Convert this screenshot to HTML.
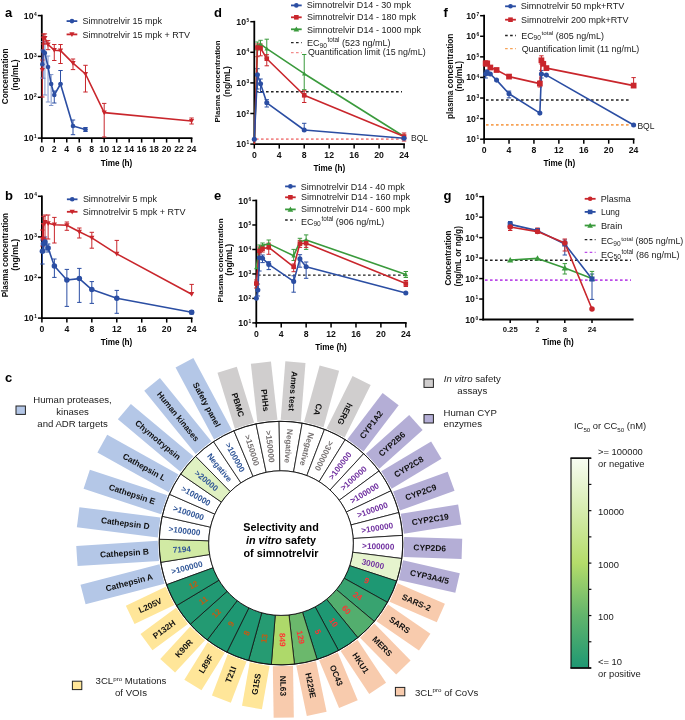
<!DOCTYPE html>
<html><head><meta charset="utf-8"><title>Simnotrelvir figure</title>
<style>html,body{margin:0;padding:0;background:#fff;}body{width:685px;height:720px;overflow:hidden;font-family:"Liberation Sans", sans-serif;}svg{display:block;will-change:transform;}</style>
</head><body>
<svg width="685" height="720" viewBox="0 0 685 720" font-family='"Liberation Sans", sans-serif'>
<text x="5.00" y="16.60" font-size="13" font-weight="bold" text-anchor="start" fill="#000">a</text>
<line x1="41.80" y1="14.70" x2="41.80" y2="139.00" stroke="#000" stroke-width="1.8" stroke-linecap="butt"/>
<line x1="40.90" y1="138.10" x2="192.46" y2="138.10" stroke="#000" stroke-width="1.8" stroke-linecap="butt"/>
<line x1="37.80" y1="15.60" x2="41.80" y2="15.60" stroke="#000" stroke-width="1.5" stroke-linecap="butt"/>
<text x="36.80" y="18.60" font-size="8.7" font-weight="bold" text-anchor="end" fill="#111">10<tspan font-size="4.87" dx="0.6" dy="-2.87">4</tspan></text>
<line x1="37.80" y1="56.43" x2="41.80" y2="56.43" stroke="#000" stroke-width="1.5" stroke-linecap="butt"/>
<text x="36.80" y="59.43" font-size="8.7" font-weight="bold" text-anchor="end" fill="#111">10<tspan font-size="4.87" dx="0.6" dy="-2.87">3</tspan></text>
<line x1="37.80" y1="97.27" x2="41.80" y2="97.27" stroke="#000" stroke-width="1.5" stroke-linecap="butt"/>
<text x="36.80" y="100.27" font-size="8.7" font-weight="bold" text-anchor="end" fill="#111">10<tspan font-size="4.87" dx="0.6" dy="-2.87">2</tspan></text>
<line x1="37.80" y1="138.10" x2="41.80" y2="138.10" stroke="#000" stroke-width="1.5" stroke-linecap="butt"/>
<text x="36.80" y="141.10" font-size="8.7" font-weight="bold" text-anchor="end" fill="#111">10<tspan font-size="4.87" dx="0.6" dy="-2.87">1</tspan></text>
<line x1="41.80" y1="138.10" x2="41.80" y2="142.60" stroke="#000" stroke-width="1.5" stroke-linecap="butt"/>
<text x="41.80" y="152.00" font-size="8.7" font-weight="bold" text-anchor="middle" fill="#111">0</text>
<line x1="54.28" y1="138.10" x2="54.28" y2="142.60" stroke="#000" stroke-width="1.5" stroke-linecap="butt"/>
<text x="54.28" y="152.00" font-size="8.7" font-weight="bold" text-anchor="middle" fill="#111">2</text>
<line x1="66.76" y1="138.10" x2="66.76" y2="142.60" stroke="#000" stroke-width="1.5" stroke-linecap="butt"/>
<text x="66.76" y="152.00" font-size="8.7" font-weight="bold" text-anchor="middle" fill="#111">4</text>
<line x1="79.24" y1="138.10" x2="79.24" y2="142.60" stroke="#000" stroke-width="1.5" stroke-linecap="butt"/>
<text x="79.24" y="152.00" font-size="8.7" font-weight="bold" text-anchor="middle" fill="#111">6</text>
<line x1="91.72" y1="138.10" x2="91.72" y2="142.60" stroke="#000" stroke-width="1.5" stroke-linecap="butt"/>
<text x="91.72" y="152.00" font-size="8.7" font-weight="bold" text-anchor="middle" fill="#111">8</text>
<line x1="104.20" y1="138.10" x2="104.20" y2="142.60" stroke="#000" stroke-width="1.5" stroke-linecap="butt"/>
<text x="104.20" y="152.00" font-size="8.7" font-weight="bold" text-anchor="middle" fill="#111">10</text>
<line x1="116.68" y1="138.10" x2="116.68" y2="142.60" stroke="#000" stroke-width="1.5" stroke-linecap="butt"/>
<text x="116.68" y="152.00" font-size="8.7" font-weight="bold" text-anchor="middle" fill="#111">12</text>
<line x1="129.16" y1="138.10" x2="129.16" y2="142.60" stroke="#000" stroke-width="1.5" stroke-linecap="butt"/>
<text x="129.16" y="152.00" font-size="8.7" font-weight="bold" text-anchor="middle" fill="#111">14</text>
<line x1="141.64" y1="138.10" x2="141.64" y2="142.60" stroke="#000" stroke-width="1.5" stroke-linecap="butt"/>
<text x="141.64" y="152.00" font-size="8.7" font-weight="bold" text-anchor="middle" fill="#111">16</text>
<line x1="154.12" y1="138.10" x2="154.12" y2="142.60" stroke="#000" stroke-width="1.5" stroke-linecap="butt"/>
<text x="154.12" y="152.00" font-size="8.7" font-weight="bold" text-anchor="middle" fill="#111">18</text>
<line x1="166.60" y1="138.10" x2="166.60" y2="142.60" stroke="#000" stroke-width="1.5" stroke-linecap="butt"/>
<text x="166.60" y="152.00" font-size="8.7" font-weight="bold" text-anchor="middle" fill="#111">20</text>
<line x1="179.08" y1="138.10" x2="179.08" y2="142.60" stroke="#000" stroke-width="1.5" stroke-linecap="butt"/>
<text x="179.08" y="152.00" font-size="8.7" font-weight="bold" text-anchor="middle" fill="#111">22</text>
<line x1="191.56" y1="138.10" x2="191.56" y2="142.60" stroke="#000" stroke-width="1.5" stroke-linecap="butt"/>
<text x="191.56" y="152.00" font-size="8.7" font-weight="bold" text-anchor="middle" fill="#111">24</text>
<text x="0" y="0" font-size="8.23" font-weight="bold" fill="#111" transform="translate(8.40 104.20) rotate(-90)">Concentration</text>
<text x="0" y="0" font-size="8.48" font-weight="bold" fill="#111" transform="translate(18.05 90.45) rotate(-90)">(ng/mL)</text>
<text x="116.50" y="165.50" font-size="8.2" font-weight="bold" text-anchor="middle" fill="#000">Time (h)</text>
<line x1="42.32" y1="50.00" x2="42.32" y2="78.00" stroke="#7f95cc" stroke-width="1.0" stroke-linecap="butt"/>
<line x1="40.12" y1="50.00" x2="44.52" y2="50.00" stroke="#7f95cc" stroke-width="1.0" stroke-linecap="butt"/>
<line x1="40.12" y1="78.00" x2="44.52" y2="78.00" stroke="#7f95cc" stroke-width="1.0" stroke-linecap="butt"/>
<line x1="43.36" y1="41.50" x2="43.36" y2="78.30" stroke="#7f95cc" stroke-width="1.0" stroke-linecap="butt"/>
<line x1="41.16" y1="41.50" x2="45.56" y2="41.50" stroke="#7f95cc" stroke-width="1.0" stroke-linecap="butt"/>
<line x1="41.16" y1="78.30" x2="45.56" y2="78.30" stroke="#7f95cc" stroke-width="1.0" stroke-linecap="butt"/>
<line x1="44.92" y1="41.50" x2="44.92" y2="95.00" stroke="#7f95cc" stroke-width="1.0" stroke-linecap="butt"/>
<line x1="42.72" y1="41.50" x2="47.12" y2="41.50" stroke="#7f95cc" stroke-width="1.0" stroke-linecap="butt"/>
<line x1="42.72" y1="95.00" x2="47.12" y2="95.00" stroke="#7f95cc" stroke-width="1.0" stroke-linecap="butt"/>
<line x1="48.04" y1="56.00" x2="48.04" y2="102.00" stroke="#7f95cc" stroke-width="1.0" stroke-linecap="butt"/>
<line x1="45.84" y1="56.00" x2="50.24" y2="56.00" stroke="#7f95cc" stroke-width="1.0" stroke-linecap="butt"/>
<line x1="45.84" y1="102.00" x2="50.24" y2="102.00" stroke="#7f95cc" stroke-width="1.0" stroke-linecap="butt"/>
<line x1="51.16" y1="74.60" x2="51.16" y2="105.50" stroke="#7f95cc" stroke-width="1.0" stroke-linecap="butt"/>
<line x1="48.96" y1="74.60" x2="53.36" y2="74.60" stroke="#7f95cc" stroke-width="1.0" stroke-linecap="butt"/>
<line x1="48.96" y1="105.50" x2="53.36" y2="105.50" stroke="#7f95cc" stroke-width="1.0" stroke-linecap="butt"/>
<line x1="54.28" y1="91.00" x2="54.28" y2="103.00" stroke="#2b4ea3" stroke-width="1.0" stroke-linecap="butt"/>
<line x1="52.08" y1="91.00" x2="56.48" y2="91.00" stroke="#2b4ea3" stroke-width="1.0" stroke-linecap="butt"/>
<line x1="52.08" y1="103.00" x2="56.48" y2="103.00" stroke="#2b4ea3" stroke-width="1.0" stroke-linecap="butt"/>
<line x1="60.52" y1="70.50" x2="60.52" y2="84.00" stroke="#2b4ea3" stroke-width="1.0" stroke-linecap="butt"/>
<line x1="58.32" y1="70.50" x2="62.72" y2="70.50" stroke="#2b4ea3" stroke-width="1.0" stroke-linecap="butt"/>
<line x1="58.32" y1="84.00" x2="62.72" y2="84.00" stroke="#2b4ea3" stroke-width="1.0" stroke-linecap="butt"/>
<line x1="73.00" y1="120.00" x2="73.00" y2="134.70" stroke="#2b4ea3" stroke-width="1.0" stroke-linecap="butt"/>
<line x1="70.80" y1="120.00" x2="75.20" y2="120.00" stroke="#2b4ea3" stroke-width="1.0" stroke-linecap="butt"/>
<line x1="70.80" y1="134.70" x2="75.20" y2="134.70" stroke="#2b4ea3" stroke-width="1.0" stroke-linecap="butt"/>
<line x1="85.48" y1="127.50" x2="85.48" y2="131.50" stroke="#2b4ea3" stroke-width="1.0" stroke-linecap="butt"/>
<line x1="83.28" y1="127.50" x2="87.68" y2="127.50" stroke="#2b4ea3" stroke-width="1.0" stroke-linecap="butt"/>
<line x1="83.28" y1="131.50" x2="87.68" y2="131.50" stroke="#2b4ea3" stroke-width="1.0" stroke-linecap="butt"/>
<line x1="42.32" y1="60.00" x2="42.32" y2="97.00" stroke="#c9262c" stroke-width="1.0" stroke-linecap="butt"/>
<line x1="40.12" y1="60.00" x2="44.52" y2="60.00" stroke="#c9262c" stroke-width="1.0" stroke-linecap="butt"/>
<line x1="40.12" y1="97.00" x2="44.52" y2="97.00" stroke="#c9262c" stroke-width="1.0" stroke-linecap="butt"/>
<line x1="43.36" y1="34.00" x2="43.36" y2="44.00" stroke="#c9262c" stroke-width="1.0" stroke-linecap="butt"/>
<line x1="41.16" y1="34.00" x2="45.56" y2="34.00" stroke="#c9262c" stroke-width="1.0" stroke-linecap="butt"/>
<line x1="41.16" y1="44.00" x2="45.56" y2="44.00" stroke="#c9262c" stroke-width="1.0" stroke-linecap="butt"/>
<line x1="44.92" y1="33.90" x2="44.92" y2="44.00" stroke="#c9262c" stroke-width="1.0" stroke-linecap="butt"/>
<line x1="42.72" y1="33.90" x2="47.12" y2="33.90" stroke="#c9262c" stroke-width="1.0" stroke-linecap="butt"/>
<line x1="42.72" y1="44.00" x2="47.12" y2="44.00" stroke="#c9262c" stroke-width="1.0" stroke-linecap="butt"/>
<line x1="48.04" y1="40.60" x2="48.04" y2="49.70" stroke="#c9262c" stroke-width="1.0" stroke-linecap="butt"/>
<line x1="45.84" y1="40.60" x2="50.24" y2="40.60" stroke="#c9262c" stroke-width="1.0" stroke-linecap="butt"/>
<line x1="45.84" y1="49.70" x2="50.24" y2="49.70" stroke="#c9262c" stroke-width="1.0" stroke-linecap="butt"/>
<line x1="54.28" y1="44.50" x2="54.28" y2="60.50" stroke="#c9262c" stroke-width="1.0" stroke-linecap="butt"/>
<line x1="52.08" y1="44.50" x2="56.48" y2="44.50" stroke="#c9262c" stroke-width="1.0" stroke-linecap="butt"/>
<line x1="52.08" y1="60.50" x2="56.48" y2="60.50" stroke="#c9262c" stroke-width="1.0" stroke-linecap="butt"/>
<line x1="60.52" y1="44.50" x2="60.52" y2="63.50" stroke="#c9262c" stroke-width="1.0" stroke-linecap="butt"/>
<line x1="58.32" y1="44.50" x2="62.72" y2="44.50" stroke="#c9262c" stroke-width="1.0" stroke-linecap="butt"/>
<line x1="58.32" y1="63.50" x2="62.72" y2="63.50" stroke="#c9262c" stroke-width="1.0" stroke-linecap="butt"/>
<line x1="73.00" y1="59.00" x2="73.00" y2="69.60" stroke="#c9262c" stroke-width="1.0" stroke-linecap="butt"/>
<line x1="70.80" y1="59.00" x2="75.20" y2="59.00" stroke="#c9262c" stroke-width="1.0" stroke-linecap="butt"/>
<line x1="70.80" y1="69.60" x2="75.20" y2="69.60" stroke="#c9262c" stroke-width="1.0" stroke-linecap="butt"/>
<line x1="85.48" y1="65.30" x2="85.48" y2="92.00" stroke="#c9262c" stroke-width="1.0" stroke-linecap="butt"/>
<line x1="83.28" y1="65.30" x2="87.68" y2="65.30" stroke="#c9262c" stroke-width="1.0" stroke-linecap="butt"/>
<line x1="83.28" y1="92.00" x2="87.68" y2="92.00" stroke="#c9262c" stroke-width="1.0" stroke-linecap="butt"/>
<line x1="104.20" y1="103.40" x2="104.20" y2="137.00" stroke="#c9262c" stroke-width="1.0" stroke-linecap="butt"/>
<line x1="102.00" y1="103.40" x2="106.40" y2="103.40" stroke="#c9262c" stroke-width="1.0" stroke-linecap="butt"/>
<line x1="102.00" y1="137.00" x2="106.40" y2="137.00" stroke="#c9262c" stroke-width="1.0" stroke-linecap="butt"/>
<line x1="191.56" y1="118.00" x2="191.56" y2="124.00" stroke="#c9262c" stroke-width="1.0" stroke-linecap="butt"/>
<line x1="189.36" y1="118.00" x2="193.76" y2="118.00" stroke="#c9262c" stroke-width="1.0" stroke-linecap="butt"/>
<line x1="189.36" y1="124.00" x2="193.76" y2="124.00" stroke="#c9262c" stroke-width="1.0" stroke-linecap="butt"/>
<polyline points="42.32,70.00 43.36,38.60 44.92,38.00 48.04,44.50 54.28,50.20 60.52,50.60 73.00,63.10 85.48,74.00 104.20,112.60 191.56,121.00" fill="none" stroke="#c9262c" stroke-width="1.6" stroke-linejoin="round"/>
<polyline points="42.32,64.30 43.36,51.50 44.92,53.00 48.04,67.00 51.16,84.00 54.28,95.00 60.52,84.00 73.00,126.00 85.48,129.50" fill="none" stroke="#2b4ea3" stroke-width="1.6" stroke-linejoin="round"/>
<polygon points="39.72,67.92 44.92,67.92 42.32,72.60" fill="#c9262c"/>
<polygon points="40.76,36.52 45.96,36.52 43.36,41.20" fill="#c9262c"/>
<polygon points="42.32,35.92 47.52,35.92 44.92,40.60" fill="#c9262c"/>
<polygon points="45.44,42.42 50.64,42.42 48.04,47.10" fill="#c9262c"/>
<polygon points="51.68,48.12 56.88,48.12 54.28,52.80" fill="#c9262c"/>
<polygon points="57.92,48.52 63.12,48.52 60.52,53.20" fill="#c9262c"/>
<polygon points="70.40,61.02 75.60,61.02 73.00,65.70" fill="#c9262c"/>
<polygon points="82.88,71.92 88.08,71.92 85.48,76.60" fill="#c9262c"/>
<polygon points="101.60,110.52 106.80,110.52 104.20,115.20" fill="#c9262c"/>
<polygon points="188.96,118.92 194.16,118.92 191.56,123.60" fill="#c9262c"/>
<circle cx="42.32" cy="64.30" r="2.30" fill="#2b4ea3"/>
<circle cx="43.36" cy="51.50" r="2.30" fill="#2b4ea3"/>
<circle cx="44.92" cy="53.00" r="2.30" fill="#2b4ea3"/>
<circle cx="48.04" cy="67.00" r="2.30" fill="#2b4ea3"/>
<circle cx="51.16" cy="84.00" r="2.30" fill="#2b4ea3"/>
<circle cx="54.28" cy="95.00" r="2.30" fill="#2b4ea3"/>
<circle cx="60.52" cy="84.00" r="2.30" fill="#2b4ea3"/>
<circle cx="73.00" cy="126.00" r="2.30" fill="#2b4ea3"/>
<circle cx="85.48" cy="129.50" r="2.30" fill="#2b4ea3"/>
<line x1="66.60" y1="21.10" x2="77.30" y2="21.10" stroke="#2b4ea3" stroke-width="1.8" stroke-linecap="butt"/>
<circle cx="71.95" cy="21.10" r="2.30" fill="#2b4ea3"/>
<text x="82.60" y="24.00" font-size="9.0" font-weight="normal" fill="#1a1a1a">Simnotrelvir 15 mpk</text>
<line x1="66.60" y1="34.40" x2="77.30" y2="34.40" stroke="#c9262c" stroke-width="1.8" stroke-linecap="butt"/>
<polygon points="69.35,32.32 74.55,32.32 71.95,37.00" fill="#c9262c"/>
<text x="82.50" y="37.70" font-size="9.0" font-weight="normal" fill="#1a1a1a">Simnotrelvir 15 mpk + RTV</text>
<text x="5.00" y="199.50" font-size="13" font-weight="bold" text-anchor="start" fill="#000">b</text>
<line x1="41.90" y1="195.40" x2="41.90" y2="319.00" stroke="#000" stroke-width="1.8" stroke-linecap="butt"/>
<line x1="41.00" y1="318.10" x2="192.56" y2="318.10" stroke="#000" stroke-width="1.8" stroke-linecap="butt"/>
<line x1="37.90" y1="196.30" x2="41.90" y2="196.30" stroke="#000" stroke-width="1.5" stroke-linecap="butt"/>
<text x="36.90" y="199.30" font-size="8.7" font-weight="bold" text-anchor="end" fill="#111">10<tspan font-size="4.87" dx="0.6" dy="-2.87">4</tspan></text>
<line x1="37.90" y1="236.90" x2="41.90" y2="236.90" stroke="#000" stroke-width="1.5" stroke-linecap="butt"/>
<text x="36.90" y="239.90" font-size="8.7" font-weight="bold" text-anchor="end" fill="#111">10<tspan font-size="4.87" dx="0.6" dy="-2.87">3</tspan></text>
<line x1="37.90" y1="277.50" x2="41.90" y2="277.50" stroke="#000" stroke-width="1.5" stroke-linecap="butt"/>
<text x="36.90" y="280.50" font-size="8.7" font-weight="bold" text-anchor="end" fill="#111">10<tspan font-size="4.87" dx="0.6" dy="-2.87">2</tspan></text>
<line x1="37.90" y1="318.10" x2="41.90" y2="318.10" stroke="#000" stroke-width="1.5" stroke-linecap="butt"/>
<text x="36.90" y="321.10" font-size="8.7" font-weight="bold" text-anchor="end" fill="#111">10<tspan font-size="4.87" dx="0.6" dy="-2.87">1</tspan></text>
<line x1="41.90" y1="318.10" x2="41.90" y2="322.60" stroke="#000" stroke-width="1.5" stroke-linecap="butt"/>
<text x="41.90" y="331.90" font-size="8.7" font-weight="bold" text-anchor="middle" fill="#111">0</text>
<line x1="66.86" y1="318.10" x2="66.86" y2="322.60" stroke="#000" stroke-width="1.5" stroke-linecap="butt"/>
<text x="66.86" y="331.90" font-size="8.7" font-weight="bold" text-anchor="middle" fill="#111">4</text>
<line x1="91.82" y1="318.10" x2="91.82" y2="322.60" stroke="#000" stroke-width="1.5" stroke-linecap="butt"/>
<text x="91.82" y="331.90" font-size="8.7" font-weight="bold" text-anchor="middle" fill="#111">8</text>
<line x1="116.78" y1="318.10" x2="116.78" y2="322.60" stroke="#000" stroke-width="1.5" stroke-linecap="butt"/>
<text x="116.78" y="331.90" font-size="8.7" font-weight="bold" text-anchor="middle" fill="#111">12</text>
<line x1="141.74" y1="318.10" x2="141.74" y2="322.60" stroke="#000" stroke-width="1.5" stroke-linecap="butt"/>
<text x="141.74" y="331.90" font-size="8.7" font-weight="bold" text-anchor="middle" fill="#111">16</text>
<line x1="166.70" y1="318.10" x2="166.70" y2="322.60" stroke="#000" stroke-width="1.5" stroke-linecap="butt"/>
<text x="166.70" y="331.90" font-size="8.7" font-weight="bold" text-anchor="middle" fill="#111">20</text>
<line x1="191.66" y1="318.10" x2="191.66" y2="322.60" stroke="#000" stroke-width="1.5" stroke-linecap="butt"/>
<text x="191.66" y="331.90" font-size="8.7" font-weight="bold" text-anchor="middle" fill="#111">24</text>
<text x="0" y="0" font-size="8.14" font-weight="bold" fill="#111" transform="translate(8.35 297.35) rotate(-90)">Plasma concentration</text>
<text x="0" y="0" font-size="8.7" font-weight="bold" fill="#111" transform="translate(17.77 270.65) rotate(-90)">(ng/mL)</text>
<text x="116.50" y="345.30" font-size="8.2" font-weight="bold" text-anchor="middle" fill="#000">Time (h)</text>
<line x1="42.42" y1="240.00" x2="42.42" y2="264.00" stroke="#2b4ea3" stroke-width="1.0" stroke-linecap="butt"/>
<line x1="40.22" y1="240.00" x2="44.62" y2="240.00" stroke="#2b4ea3" stroke-width="1.0" stroke-linecap="butt"/>
<line x1="40.22" y1="264.00" x2="44.62" y2="264.00" stroke="#2b4ea3" stroke-width="1.0" stroke-linecap="butt"/>
<line x1="43.46" y1="238.00" x2="43.46" y2="252.00" stroke="#2b4ea3" stroke-width="1.0" stroke-linecap="butt"/>
<line x1="41.26" y1="238.00" x2="45.66" y2="238.00" stroke="#2b4ea3" stroke-width="1.0" stroke-linecap="butt"/>
<line x1="41.26" y1="252.00" x2="45.66" y2="252.00" stroke="#2b4ea3" stroke-width="1.0" stroke-linecap="butt"/>
<line x1="45.02" y1="237.00" x2="45.02" y2="250.00" stroke="#2b4ea3" stroke-width="1.0" stroke-linecap="butt"/>
<line x1="42.82" y1="237.00" x2="47.22" y2="237.00" stroke="#2b4ea3" stroke-width="1.0" stroke-linecap="butt"/>
<line x1="42.82" y1="250.00" x2="47.22" y2="250.00" stroke="#2b4ea3" stroke-width="1.0" stroke-linecap="butt"/>
<line x1="48.14" y1="244.00" x2="48.14" y2="252.00" stroke="#2b4ea3" stroke-width="1.0" stroke-linecap="butt"/>
<line x1="45.94" y1="244.00" x2="50.34" y2="244.00" stroke="#2b4ea3" stroke-width="1.0" stroke-linecap="butt"/>
<line x1="45.94" y1="252.00" x2="50.34" y2="252.00" stroke="#2b4ea3" stroke-width="1.0" stroke-linecap="butt"/>
<line x1="54.38" y1="259.00" x2="54.38" y2="277.40" stroke="#2b4ea3" stroke-width="1.0" stroke-linecap="butt"/>
<line x1="52.18" y1="259.00" x2="56.58" y2="259.00" stroke="#2b4ea3" stroke-width="1.0" stroke-linecap="butt"/>
<line x1="52.18" y1="277.40" x2="56.58" y2="277.40" stroke="#2b4ea3" stroke-width="1.0" stroke-linecap="butt"/>
<line x1="66.86" y1="269.40" x2="66.86" y2="306.40" stroke="#2b4ea3" stroke-width="1.0" stroke-linecap="butt"/>
<line x1="64.66" y1="269.40" x2="69.06" y2="269.40" stroke="#2b4ea3" stroke-width="1.0" stroke-linecap="butt"/>
<line x1="64.66" y1="306.40" x2="69.06" y2="306.40" stroke="#2b4ea3" stroke-width="1.0" stroke-linecap="butt"/>
<line x1="79.34" y1="268.40" x2="79.34" y2="302.40" stroke="#2b4ea3" stroke-width="1.0" stroke-linecap="butt"/>
<line x1="77.14" y1="268.40" x2="81.54" y2="268.40" stroke="#2b4ea3" stroke-width="1.0" stroke-linecap="butt"/>
<line x1="77.14" y1="302.40" x2="81.54" y2="302.40" stroke="#2b4ea3" stroke-width="1.0" stroke-linecap="butt"/>
<line x1="91.82" y1="281.60" x2="91.82" y2="303.40" stroke="#2b4ea3" stroke-width="1.0" stroke-linecap="butt"/>
<line x1="89.62" y1="281.60" x2="94.02" y2="281.60" stroke="#2b4ea3" stroke-width="1.0" stroke-linecap="butt"/>
<line x1="89.62" y1="303.40" x2="94.02" y2="303.40" stroke="#2b4ea3" stroke-width="1.0" stroke-linecap="butt"/>
<line x1="116.78" y1="290.40" x2="116.78" y2="313.30" stroke="#2b4ea3" stroke-width="1.0" stroke-linecap="butt"/>
<line x1="114.58" y1="290.40" x2="118.98" y2="290.40" stroke="#2b4ea3" stroke-width="1.0" stroke-linecap="butt"/>
<line x1="114.58" y1="313.30" x2="118.98" y2="313.30" stroke="#2b4ea3" stroke-width="1.0" stroke-linecap="butt"/>
<line x1="191.66" y1="310.50" x2="191.66" y2="314.00" stroke="#2b4ea3" stroke-width="1.0" stroke-linecap="butt"/>
<line x1="189.46" y1="310.50" x2="193.86" y2="310.50" stroke="#2b4ea3" stroke-width="1.0" stroke-linecap="butt"/>
<line x1="189.46" y1="314.00" x2="193.86" y2="314.00" stroke="#2b4ea3" stroke-width="1.0" stroke-linecap="butt"/>
<line x1="42.42" y1="230.00" x2="42.42" y2="246.00" stroke="#c9262c" stroke-width="1.0" stroke-linecap="butt"/>
<line x1="40.22" y1="230.00" x2="44.62" y2="230.00" stroke="#c9262c" stroke-width="1.0" stroke-linecap="butt"/>
<line x1="40.22" y1="246.00" x2="44.62" y2="246.00" stroke="#c9262c" stroke-width="1.0" stroke-linecap="butt"/>
<line x1="43.46" y1="216.30" x2="43.46" y2="239.00" stroke="#c9262c" stroke-width="1.0" stroke-linecap="butt"/>
<line x1="41.26" y1="216.30" x2="45.66" y2="216.30" stroke="#c9262c" stroke-width="1.0" stroke-linecap="butt"/>
<line x1="41.26" y1="239.00" x2="45.66" y2="239.00" stroke="#c9262c" stroke-width="1.0" stroke-linecap="butt"/>
<line x1="45.02" y1="215.00" x2="45.02" y2="239.00" stroke="#c9262c" stroke-width="1.0" stroke-linecap="butt"/>
<line x1="42.82" y1="215.00" x2="47.22" y2="215.00" stroke="#c9262c" stroke-width="1.0" stroke-linecap="butt"/>
<line x1="42.82" y1="239.00" x2="47.22" y2="239.00" stroke="#c9262c" stroke-width="1.0" stroke-linecap="butt"/>
<line x1="48.14" y1="215.00" x2="48.14" y2="239.00" stroke="#c9262c" stroke-width="1.0" stroke-linecap="butt"/>
<line x1="45.94" y1="215.00" x2="50.34" y2="215.00" stroke="#c9262c" stroke-width="1.0" stroke-linecap="butt"/>
<line x1="45.94" y1="239.00" x2="50.34" y2="239.00" stroke="#c9262c" stroke-width="1.0" stroke-linecap="butt"/>
<line x1="54.38" y1="217.40" x2="54.38" y2="243.00" stroke="#c9262c" stroke-width="1.0" stroke-linecap="butt"/>
<line x1="52.18" y1="217.40" x2="56.58" y2="217.40" stroke="#c9262c" stroke-width="1.0" stroke-linecap="butt"/>
<line x1="52.18" y1="243.00" x2="56.58" y2="243.00" stroke="#c9262c" stroke-width="1.0" stroke-linecap="butt"/>
<line x1="66.86" y1="222.00" x2="66.86" y2="230.30" stroke="#c9262c" stroke-width="1.0" stroke-linecap="butt"/>
<line x1="64.66" y1="222.00" x2="69.06" y2="222.00" stroke="#c9262c" stroke-width="1.0" stroke-linecap="butt"/>
<line x1="64.66" y1="230.30" x2="69.06" y2="230.30" stroke="#c9262c" stroke-width="1.0" stroke-linecap="butt"/>
<line x1="79.34" y1="228.00" x2="79.34" y2="238.00" stroke="#c9262c" stroke-width="1.0" stroke-linecap="butt"/>
<line x1="77.14" y1="228.00" x2="81.54" y2="228.00" stroke="#c9262c" stroke-width="1.0" stroke-linecap="butt"/>
<line x1="77.14" y1="238.00" x2="81.54" y2="238.00" stroke="#c9262c" stroke-width="1.0" stroke-linecap="butt"/>
<line x1="91.82" y1="232.30" x2="91.82" y2="248.20" stroke="#c9262c" stroke-width="1.0" stroke-linecap="butt"/>
<line x1="89.62" y1="232.30" x2="94.02" y2="232.30" stroke="#c9262c" stroke-width="1.0" stroke-linecap="butt"/>
<line x1="89.62" y1="248.20" x2="94.02" y2="248.20" stroke="#c9262c" stroke-width="1.0" stroke-linecap="butt"/>
<line x1="116.78" y1="240.40" x2="116.78" y2="253.90" stroke="#c9262c" stroke-width="1.0" stroke-linecap="butt"/>
<line x1="114.58" y1="240.40" x2="118.98" y2="240.40" stroke="#c9262c" stroke-width="1.0" stroke-linecap="butt"/>
<line x1="191.66" y1="284.40" x2="191.66" y2="294.20" stroke="#c9262c" stroke-width="1.0" stroke-linecap="butt"/>
<line x1="189.46" y1="284.40" x2="193.86" y2="284.40" stroke="#c9262c" stroke-width="1.0" stroke-linecap="butt"/>
<polyline points="42.42,239.00 43.46,225.00 45.02,222.00 48.14,223.30 54.38,224.70 66.86,225.30 79.34,231.80 91.82,237.90 116.78,253.90 191.66,294.20" fill="none" stroke="#c9262c" stroke-width="1.6" stroke-linejoin="round"/>
<polyline points="42.42,251.30 43.46,243.70 45.02,242.00 48.14,248.00 54.38,266.00 66.86,280.00 79.34,278.60 91.82,289.60 116.78,298.30 191.66,312.20" fill="none" stroke="#2b4ea3" stroke-width="1.6" stroke-linejoin="round"/>
<polygon points="39.82,236.92 45.02,236.92 42.42,241.60" fill="#c9262c"/>
<polygon points="40.86,222.92 46.06,222.92 43.46,227.60" fill="#c9262c"/>
<polygon points="42.42,219.92 47.62,219.92 45.02,224.60" fill="#c9262c"/>
<polygon points="45.54,221.22 50.74,221.22 48.14,225.90" fill="#c9262c"/>
<polygon points="51.78,222.62 56.98,222.62 54.38,227.30" fill="#c9262c"/>
<polygon points="64.26,223.22 69.46,223.22 66.86,227.90" fill="#c9262c"/>
<polygon points="76.74,229.72 81.94,229.72 79.34,234.40" fill="#c9262c"/>
<polygon points="89.22,235.82 94.42,235.82 91.82,240.50" fill="#c9262c"/>
<polygon points="114.18,251.82 119.38,251.82 116.78,256.50" fill="#c9262c"/>
<polygon points="189.06,292.12 194.26,292.12 191.66,296.80" fill="#c9262c"/>
<circle cx="42.42" cy="251.30" r="2.76" fill="#2b4ea3"/>
<circle cx="43.46" cy="243.70" r="2.76" fill="#2b4ea3"/>
<circle cx="45.02" cy="242.00" r="2.76" fill="#2b4ea3"/>
<circle cx="48.14" cy="248.00" r="2.76" fill="#2b4ea3"/>
<circle cx="54.38" cy="266.00" r="2.76" fill="#2b4ea3"/>
<circle cx="66.86" cy="280.00" r="2.76" fill="#2b4ea3"/>
<circle cx="79.34" cy="278.60" r="2.76" fill="#2b4ea3"/>
<circle cx="91.82" cy="289.60" r="2.76" fill="#2b4ea3"/>
<circle cx="116.78" cy="298.30" r="2.76" fill="#2b4ea3"/>
<circle cx="191.66" cy="312.20" r="2.76" fill="#2b4ea3"/>
<line x1="66.90" y1="199.30" x2="77.50" y2="199.30" stroke="#2b4ea3" stroke-width="1.8" stroke-linecap="butt"/>
<circle cx="72.20" cy="199.30" r="2.30" fill="#2b4ea3"/>
<text x="82.90" y="202.40" font-size="8.95" font-weight="normal" fill="#1a1a1a">Simnotrelvir 5 mpk</text>
<line x1="66.90" y1="211.80" x2="77.50" y2="211.80" stroke="#c9262c" stroke-width="1.8" stroke-linecap="butt"/>
<polygon points="69.60,209.72 74.80,209.72 72.20,214.40" fill="#c9262c"/>
<text x="82.85" y="214.50" font-size="9.0" font-weight="normal" fill="#1a1a1a">Simnotrelvir 5 mpk + RTV</text>
<text x="214.00" y="16.50" font-size="13" font-weight="bold" text-anchor="start" fill="#000">d</text>
<line x1="254.30" y1="20.80" x2="254.30" y2="145.00" stroke="#000" stroke-width="1.8" stroke-linecap="butt"/>
<line x1="253.40" y1="144.10" x2="404.96" y2="144.10" stroke="#000" stroke-width="1.8" stroke-linecap="butt"/>
<line x1="250.30" y1="21.70" x2="254.30" y2="21.70" stroke="#000" stroke-width="1.5" stroke-linecap="butt"/>
<text x="249.30" y="24.70" font-size="8.7" font-weight="bold" text-anchor="end" fill="#111">10<tspan font-size="4.87" dx="0.6" dy="-2.87">5</tspan></text>
<line x1="250.30" y1="52.30" x2="254.30" y2="52.30" stroke="#000" stroke-width="1.5" stroke-linecap="butt"/>
<text x="249.30" y="55.30" font-size="8.7" font-weight="bold" text-anchor="end" fill="#111">10<tspan font-size="4.87" dx="0.6" dy="-2.87">4</tspan></text>
<line x1="250.30" y1="82.90" x2="254.30" y2="82.90" stroke="#000" stroke-width="1.5" stroke-linecap="butt"/>
<text x="249.30" y="85.90" font-size="8.7" font-weight="bold" text-anchor="end" fill="#111">10<tspan font-size="4.87" dx="0.6" dy="-2.87">3</tspan></text>
<line x1="250.30" y1="113.50" x2="254.30" y2="113.50" stroke="#000" stroke-width="1.5" stroke-linecap="butt"/>
<text x="249.30" y="116.50" font-size="8.7" font-weight="bold" text-anchor="end" fill="#111">10<tspan font-size="4.87" dx="0.6" dy="-2.87">2</tspan></text>
<line x1="250.30" y1="144.10" x2="254.30" y2="144.10" stroke="#000" stroke-width="1.5" stroke-linecap="butt"/>
<text x="249.30" y="147.10" font-size="8.7" font-weight="bold" text-anchor="end" fill="#111">10<tspan font-size="4.87" dx="0.6" dy="-2.87">1</tspan></text>
<line x1="254.30" y1="144.10" x2="254.30" y2="148.60" stroke="#000" stroke-width="1.5" stroke-linecap="butt"/>
<text x="254.30" y="158.00" font-size="8.7" font-weight="bold" text-anchor="middle" fill="#111">0</text>
<line x1="279.26" y1="144.10" x2="279.26" y2="148.60" stroke="#000" stroke-width="1.5" stroke-linecap="butt"/>
<text x="279.26" y="158.00" font-size="8.7" font-weight="bold" text-anchor="middle" fill="#111">4</text>
<line x1="304.22" y1="144.10" x2="304.22" y2="148.60" stroke="#000" stroke-width="1.5" stroke-linecap="butt"/>
<text x="304.22" y="158.00" font-size="8.7" font-weight="bold" text-anchor="middle" fill="#111">8</text>
<line x1="329.18" y1="144.10" x2="329.18" y2="148.60" stroke="#000" stroke-width="1.5" stroke-linecap="butt"/>
<text x="329.18" y="158.00" font-size="8.7" font-weight="bold" text-anchor="middle" fill="#111">12</text>
<line x1="354.14" y1="144.10" x2="354.14" y2="148.60" stroke="#000" stroke-width="1.5" stroke-linecap="butt"/>
<text x="354.14" y="158.00" font-size="8.7" font-weight="bold" text-anchor="middle" fill="#111">16</text>
<line x1="379.10" y1="144.10" x2="379.10" y2="148.60" stroke="#000" stroke-width="1.5" stroke-linecap="butt"/>
<text x="379.10" y="158.00" font-size="8.7" font-weight="bold" text-anchor="middle" fill="#111">20</text>
<line x1="404.06" y1="144.10" x2="404.06" y2="148.60" stroke="#000" stroke-width="1.5" stroke-linecap="butt"/>
<text x="404.06" y="158.00" font-size="8.7" font-weight="bold" text-anchor="middle" fill="#111">24</text>
<text x="0" y="0" font-size="7.92" font-weight="bold" fill="#111" transform="translate(219.70 122.50) rotate(-90)">Plasma concentration</text>
<text x="0" y="0" font-size="8.45" font-weight="bold" fill="#111" transform="translate(230.30 97.00) rotate(-90)">(ng/mL)</text>
<text x="329.30" y="171.30" font-size="8.2" font-weight="bold" text-anchor="middle" fill="#000">Time (h)</text>
<line x1="256.00" y1="91.70" x2="402.00" y2="91.70" stroke="#222" stroke-width="1.4" stroke-linecap="butt" stroke-dasharray="2.6,2.4"/>
<line x1="256.00" y1="139.20" x2="403.00" y2="139.20" stroke="#f28b8b" stroke-width="1.8" stroke-linecap="butt" stroke-dasharray="2.6,2.4"/>
<line x1="257.42" y1="42.00" x2="257.42" y2="50.00" stroke="#3a9a3c" stroke-width="1.0" stroke-linecap="butt"/>
<line x1="255.22" y1="42.00" x2="259.62" y2="42.00" stroke="#3a9a3c" stroke-width="1.0" stroke-linecap="butt"/>
<line x1="255.22" y1="50.00" x2="259.62" y2="50.00" stroke="#3a9a3c" stroke-width="1.0" stroke-linecap="butt"/>
<line x1="260.54" y1="40.30" x2="260.54" y2="48.00" stroke="#3a9a3c" stroke-width="1.0" stroke-linecap="butt"/>
<line x1="258.34" y1="40.30" x2="262.74" y2="40.30" stroke="#3a9a3c" stroke-width="1.0" stroke-linecap="butt"/>
<line x1="258.34" y1="48.00" x2="262.74" y2="48.00" stroke="#3a9a3c" stroke-width="1.0" stroke-linecap="butt"/>
<line x1="266.78" y1="39.20" x2="266.78" y2="58.30" stroke="#3a9a3c" stroke-width="1.0" stroke-linecap="butt"/>
<line x1="264.58" y1="39.20" x2="268.98" y2="39.20" stroke="#3a9a3c" stroke-width="1.0" stroke-linecap="butt"/>
<line x1="264.58" y1="58.30" x2="268.98" y2="58.30" stroke="#3a9a3c" stroke-width="1.0" stroke-linecap="butt"/>
<line x1="304.22" y1="54.50" x2="304.22" y2="89.70" stroke="#3a9a3c" stroke-width="1.0" stroke-linecap="butt"/>
<line x1="302.02" y1="54.50" x2="306.42" y2="54.50" stroke="#3a9a3c" stroke-width="1.0" stroke-linecap="butt"/>
<line x1="302.02" y1="89.70" x2="306.42" y2="89.70" stroke="#3a9a3c" stroke-width="1.0" stroke-linecap="butt"/>
<line x1="257.42" y1="44.00" x2="257.42" y2="56.70" stroke="#c9262c" stroke-width="1.0" stroke-linecap="butt"/>
<line x1="255.22" y1="44.00" x2="259.62" y2="44.00" stroke="#c9262c" stroke-width="1.0" stroke-linecap="butt"/>
<line x1="255.22" y1="56.70" x2="259.62" y2="56.70" stroke="#c9262c" stroke-width="1.0" stroke-linecap="butt"/>
<line x1="260.54" y1="44.00" x2="260.54" y2="55.80" stroke="#c9262c" stroke-width="1.0" stroke-linecap="butt"/>
<line x1="258.34" y1="44.00" x2="262.74" y2="44.00" stroke="#c9262c" stroke-width="1.0" stroke-linecap="butt"/>
<line x1="258.34" y1="55.80" x2="262.74" y2="55.80" stroke="#c9262c" stroke-width="1.0" stroke-linecap="butt"/>
<line x1="266.78" y1="54.70" x2="266.78" y2="65.80" stroke="#c9262c" stroke-width="1.0" stroke-linecap="butt"/>
<line x1="264.58" y1="54.70" x2="268.98" y2="54.70" stroke="#c9262c" stroke-width="1.0" stroke-linecap="butt"/>
<line x1="264.58" y1="65.80" x2="268.98" y2="65.80" stroke="#c9262c" stroke-width="1.0" stroke-linecap="butt"/>
<line x1="304.22" y1="90.80" x2="304.22" y2="102.50" stroke="#c9262c" stroke-width="1.0" stroke-linecap="butt"/>
<line x1="302.02" y1="90.80" x2="306.42" y2="90.80" stroke="#c9262c" stroke-width="1.0" stroke-linecap="butt"/>
<line x1="302.02" y1="102.50" x2="306.42" y2="102.50" stroke="#c9262c" stroke-width="1.0" stroke-linecap="butt"/>
<line x1="404.06" y1="133.00" x2="404.06" y2="141.00" stroke="#c9262c" stroke-width="1.0" stroke-linecap="butt"/>
<line x1="401.86" y1="133.00" x2="406.26" y2="133.00" stroke="#c9262c" stroke-width="1.0" stroke-linecap="butt"/>
<line x1="401.86" y1="141.00" x2="406.26" y2="141.00" stroke="#c9262c" stroke-width="1.0" stroke-linecap="butt"/>
<line x1="257.42" y1="68.70" x2="257.42" y2="89.00" stroke="#2b4ea3" stroke-width="1.0" stroke-linecap="butt"/>
<line x1="255.22" y1="68.70" x2="259.62" y2="68.70" stroke="#2b4ea3" stroke-width="1.0" stroke-linecap="butt"/>
<line x1="255.22" y1="89.00" x2="259.62" y2="89.00" stroke="#2b4ea3" stroke-width="1.0" stroke-linecap="butt"/>
<line x1="260.54" y1="79.00" x2="260.54" y2="92.50" stroke="#2b4ea3" stroke-width="1.0" stroke-linecap="butt"/>
<line x1="258.34" y1="79.00" x2="262.74" y2="79.00" stroke="#2b4ea3" stroke-width="1.0" stroke-linecap="butt"/>
<line x1="258.34" y1="92.50" x2="262.74" y2="92.50" stroke="#2b4ea3" stroke-width="1.0" stroke-linecap="butt"/>
<line x1="266.78" y1="99.70" x2="266.78" y2="107.00" stroke="#2b4ea3" stroke-width="1.0" stroke-linecap="butt"/>
<line x1="264.58" y1="99.70" x2="268.98" y2="99.70" stroke="#2b4ea3" stroke-width="1.0" stroke-linecap="butt"/>
<line x1="264.58" y1="107.00" x2="268.98" y2="107.00" stroke="#2b4ea3" stroke-width="1.0" stroke-linecap="butt"/>
<line x1="304.22" y1="123.30" x2="304.22" y2="130.00" stroke="#2b4ea3" stroke-width="1.0" stroke-linecap="butt"/>
<line x1="302.02" y1="123.30" x2="306.42" y2="123.30" stroke="#2b4ea3" stroke-width="1.0" stroke-linecap="butt"/>
<polyline points="254.30,144.00 257.42,45.80 260.54,44.20 266.78,48.70 304.22,73.70 404.06,136.50" fill="none" stroke="#3a9a3c" stroke-width="1.6" stroke-linejoin="round"/>
<polyline points="254.30,144.00 257.42,47.50 260.54,48.00 266.78,58.70 304.22,95.30 404.06,136.50" fill="none" stroke="#c9262c" stroke-width="1.6" stroke-linejoin="round"/>
<polyline points="254.30,139.20 257.42,74.70 260.54,83.70 266.78,102.80 304.22,130.00 404.06,138.30" fill="none" stroke="#2b4ea3" stroke-width="1.6" stroke-linejoin="round"/>
<polygon points="255.18,47.59 259.66,47.59 257.42,43.56" fill="#3a9a3c"/>
<polygon points="258.30,45.99 262.78,45.99 260.54,41.96" fill="#3a9a3c"/>
<polygon points="264.54,50.49 269.02,50.49 266.78,46.46" fill="#3a9a3c"/>
<polygon points="301.98,75.49 306.46,75.49 304.22,71.46" fill="#3a9a3c"/>
<polygon points="401.82,138.29 406.30,138.29 404.06,134.26" fill="#3a9a3c"/>
<rect x="255.12" y="45.20" width="4.60" height="4.60" fill="#c9262c"/>
<rect x="258.24" y="45.70" width="4.60" height="4.60" fill="#c9262c"/>
<rect x="264.48" y="56.40" width="4.60" height="4.60" fill="#c9262c"/>
<rect x="301.92" y="93.00" width="4.60" height="4.60" fill="#c9262c"/>
<rect x="401.76" y="134.20" width="4.60" height="4.60" fill="#c9262c"/>
<circle cx="254.30" cy="139.20" r="2.53" fill="#2b4ea3"/>
<circle cx="257.42" cy="74.70" r="2.53" fill="#2b4ea3"/>
<circle cx="260.54" cy="83.70" r="2.53" fill="#2b4ea3"/>
<circle cx="266.78" cy="102.80" r="2.53" fill="#2b4ea3"/>
<circle cx="304.22" cy="130.00" r="2.53" fill="#2b4ea3"/>
<circle cx="404.06" cy="138.30" r="2.53" fill="#2b4ea3"/>
<text x="411.00" y="141.20" font-size="8.5" font-weight="normal" text-anchor="start" fill="#1a1a1a">BQL</text>
<line x1="291.00" y1="5.40" x2="301.70" y2="5.40" stroke="#2b4ea3" stroke-width="1.8" stroke-linecap="butt"/>
<circle cx="296.35" cy="5.40" r="2.30" fill="#2b4ea3"/>
<text x="306.85" y="8.30" font-size="9.0" font-weight="normal" fill="#1a1a1a">Simnotrelvir D14 - 30 mpk</text>
<line x1="291.00" y1="17.30" x2="301.70" y2="17.30" stroke="#c9262c" stroke-width="1.8" stroke-linecap="butt"/>
<rect x="294.05" y="15.00" width="4.60" height="4.60" fill="#c9262c"/>
<text x="306.90" y="20.40" font-size="9.0" font-weight="normal" fill="#1a1a1a">Simnotrelvir D14 - 180 mpk</text>
<line x1="291.00" y1="29.30" x2="301.70" y2="29.30" stroke="#3a9a3c" stroke-width="1.8" stroke-linecap="butt"/>
<polygon points="293.55,31.54 299.15,31.54 296.35,26.50" fill="#3a9a3c"/>
<text x="307.00" y="32.50" font-size="9.0" font-weight="normal" fill="#1a1a1a">Simnotrelvir D14 - 1000 mpk</text>
<line x1="291.00" y1="42.70" x2="301.70" y2="42.70" stroke="#222" stroke-width="1.3" stroke-linecap="butt" stroke-dasharray="2.6,2.4"/>
<text x="306.95" y="45.80" font-size="9.0" font-weight="normal" fill="#1a1a1a">EC<tspan font-size="74%" dy="0.26em">90</tspan><tspan font-size="70%" dx="0.1em" dy="-0.83em">total</tspan><tspan dy="0.39em"> (523 ng/mL)</tspan></text>
<line x1="291.00" y1="52.70" x2="301.70" y2="52.70" stroke="#f28b8b" stroke-width="1.3" stroke-linecap="butt" stroke-dasharray="2.6,2.4"/>
<text x="307.95" y="55.40" font-size="8.87" font-weight="normal" fill="#1a1a1a">Quantification limit (15 ng/mL)</text>
<text x="214.00" y="200.00" font-size="13" font-weight="bold" text-anchor="start" fill="#000">e</text>
<line x1="256.30" y1="199.60" x2="256.30" y2="323.80" stroke="#000" stroke-width="1.8" stroke-linecap="butt"/>
<line x1="255.40" y1="322.90" x2="406.72" y2="322.90" stroke="#000" stroke-width="1.8" stroke-linecap="butt"/>
<line x1="252.30" y1="200.50" x2="256.30" y2="200.50" stroke="#000" stroke-width="1.5" stroke-linecap="butt"/>
<text x="251.30" y="203.50" font-size="8.7" font-weight="bold" text-anchor="end" fill="#111">10<tspan font-size="4.87" dx="0.6" dy="-2.87">6</tspan></text>
<line x1="252.30" y1="224.98" x2="256.30" y2="224.98" stroke="#000" stroke-width="1.5" stroke-linecap="butt"/>
<text x="251.30" y="227.98" font-size="8.7" font-weight="bold" text-anchor="end" fill="#111">10<tspan font-size="4.87" dx="0.6" dy="-2.87">5</tspan></text>
<line x1="252.30" y1="249.46" x2="256.30" y2="249.46" stroke="#000" stroke-width="1.5" stroke-linecap="butt"/>
<text x="251.30" y="252.46" font-size="8.7" font-weight="bold" text-anchor="end" fill="#111">10<tspan font-size="4.87" dx="0.6" dy="-2.87">4</tspan></text>
<line x1="252.30" y1="273.94" x2="256.30" y2="273.94" stroke="#000" stroke-width="1.5" stroke-linecap="butt"/>
<text x="251.30" y="276.94" font-size="8.7" font-weight="bold" text-anchor="end" fill="#111">10<tspan font-size="4.87" dx="0.6" dy="-2.87">3</tspan></text>
<line x1="252.30" y1="298.42" x2="256.30" y2="298.42" stroke="#000" stroke-width="1.5" stroke-linecap="butt"/>
<text x="251.30" y="301.42" font-size="8.7" font-weight="bold" text-anchor="end" fill="#111">10<tspan font-size="4.87" dx="0.6" dy="-2.87">2</tspan></text>
<line x1="252.30" y1="322.90" x2="256.30" y2="322.90" stroke="#000" stroke-width="1.5" stroke-linecap="butt"/>
<text x="251.30" y="325.90" font-size="8.7" font-weight="bold" text-anchor="end" fill="#111">10<tspan font-size="4.87" dx="0.6" dy="-2.87">1</tspan></text>
<line x1="256.30" y1="322.90" x2="256.30" y2="327.40" stroke="#000" stroke-width="1.5" stroke-linecap="butt"/>
<text x="256.30" y="336.60" font-size="8.7" font-weight="bold" text-anchor="middle" fill="#111">0</text>
<line x1="281.22" y1="322.90" x2="281.22" y2="327.40" stroke="#000" stroke-width="1.5" stroke-linecap="butt"/>
<text x="281.22" y="336.60" font-size="8.7" font-weight="bold" text-anchor="middle" fill="#111">4</text>
<line x1="306.14" y1="322.90" x2="306.14" y2="327.40" stroke="#000" stroke-width="1.5" stroke-linecap="butt"/>
<text x="306.14" y="336.60" font-size="8.7" font-weight="bold" text-anchor="middle" fill="#111">8</text>
<line x1="331.06" y1="322.90" x2="331.06" y2="327.40" stroke="#000" stroke-width="1.5" stroke-linecap="butt"/>
<text x="331.06" y="336.60" font-size="8.7" font-weight="bold" text-anchor="middle" fill="#111">12</text>
<line x1="355.98" y1="322.90" x2="355.98" y2="327.40" stroke="#000" stroke-width="1.5" stroke-linecap="butt"/>
<text x="355.98" y="336.60" font-size="8.7" font-weight="bold" text-anchor="middle" fill="#111">16</text>
<line x1="380.90" y1="322.90" x2="380.90" y2="327.40" stroke="#000" stroke-width="1.5" stroke-linecap="butt"/>
<text x="380.90" y="336.60" font-size="8.7" font-weight="bold" text-anchor="middle" fill="#111">20</text>
<line x1="405.82" y1="322.90" x2="405.82" y2="327.40" stroke="#000" stroke-width="1.5" stroke-linecap="butt"/>
<text x="405.82" y="336.60" font-size="8.7" font-weight="bold" text-anchor="middle" fill="#111">24</text>
<text x="0" y="0" font-size="8.11" font-weight="bold" fill="#111" transform="translate(222.55 302.50) rotate(-90)">Plasma concentration</text>
<text x="0" y="0" font-size="8.7" font-weight="bold" fill="#111" transform="translate(231.95 275.65) rotate(-90)">(ng/mL)</text>
<text x="331.00" y="350.30" font-size="8.2" font-weight="bold" text-anchor="middle" fill="#000">Time (h)</text>
<line x1="258.00" y1="275.10" x2="408.00" y2="275.10" stroke="#222" stroke-width="1.4" stroke-linecap="butt" stroke-dasharray="2.6,2.4"/>
<line x1="259.42" y1="245.00" x2="259.42" y2="251.00" stroke="#3a9a3c" stroke-width="1.0" stroke-linecap="butt"/>
<line x1="257.22" y1="245.00" x2="261.62" y2="245.00" stroke="#3a9a3c" stroke-width="1.0" stroke-linecap="butt"/>
<line x1="257.22" y1="251.00" x2="261.62" y2="251.00" stroke="#3a9a3c" stroke-width="1.0" stroke-linecap="butt"/>
<line x1="262.53" y1="243.00" x2="262.53" y2="248.00" stroke="#3a9a3c" stroke-width="1.0" stroke-linecap="butt"/>
<line x1="260.33" y1="243.00" x2="264.73" y2="243.00" stroke="#3a9a3c" stroke-width="1.0" stroke-linecap="butt"/>
<line x1="260.33" y1="248.00" x2="264.73" y2="248.00" stroke="#3a9a3c" stroke-width="1.0" stroke-linecap="butt"/>
<line x1="268.76" y1="240.00" x2="268.76" y2="248.00" stroke="#3a9a3c" stroke-width="1.0" stroke-linecap="butt"/>
<line x1="266.56" y1="240.00" x2="270.96" y2="240.00" stroke="#3a9a3c" stroke-width="1.0" stroke-linecap="butt"/>
<line x1="266.56" y1="248.00" x2="270.96" y2="248.00" stroke="#3a9a3c" stroke-width="1.0" stroke-linecap="butt"/>
<line x1="293.68" y1="249.40" x2="293.68" y2="260.50" stroke="#3a9a3c" stroke-width="1.0" stroke-linecap="butt"/>
<line x1="291.48" y1="249.40" x2="295.88" y2="249.40" stroke="#3a9a3c" stroke-width="1.0" stroke-linecap="butt"/>
<line x1="291.48" y1="260.50" x2="295.88" y2="260.50" stroke="#3a9a3c" stroke-width="1.0" stroke-linecap="butt"/>
<line x1="299.91" y1="238.30" x2="299.91" y2="245.00" stroke="#3a9a3c" stroke-width="1.0" stroke-linecap="butt"/>
<line x1="297.71" y1="238.30" x2="302.11" y2="238.30" stroke="#3a9a3c" stroke-width="1.0" stroke-linecap="butt"/>
<line x1="297.71" y1="245.00" x2="302.11" y2="245.00" stroke="#3a9a3c" stroke-width="1.0" stroke-linecap="butt"/>
<line x1="306.14" y1="234.90" x2="306.14" y2="249.40" stroke="#3a9a3c" stroke-width="1.0" stroke-linecap="butt"/>
<line x1="303.94" y1="234.90" x2="308.34" y2="234.90" stroke="#3a9a3c" stroke-width="1.0" stroke-linecap="butt"/>
<line x1="303.94" y1="249.40" x2="308.34" y2="249.40" stroke="#3a9a3c" stroke-width="1.0" stroke-linecap="butt"/>
<line x1="405.82" y1="271.50" x2="405.82" y2="277.50" stroke="#3a9a3c" stroke-width="1.0" stroke-linecap="butt"/>
<line x1="403.62" y1="271.50" x2="408.02" y2="271.50" stroke="#3a9a3c" stroke-width="1.0" stroke-linecap="butt"/>
<line x1="403.62" y1="277.50" x2="408.02" y2="277.50" stroke="#3a9a3c" stroke-width="1.0" stroke-linecap="butt"/>
<line x1="256.30" y1="280.00" x2="256.30" y2="288.00" stroke="#c9262c" stroke-width="1.0" stroke-linecap="butt"/>
<line x1="254.10" y1="280.00" x2="258.50" y2="280.00" stroke="#c9262c" stroke-width="1.0" stroke-linecap="butt"/>
<line x1="254.10" y1="288.00" x2="258.50" y2="288.00" stroke="#c9262c" stroke-width="1.0" stroke-linecap="butt"/>
<line x1="259.42" y1="247.00" x2="259.42" y2="254.00" stroke="#c9262c" stroke-width="1.0" stroke-linecap="butt"/>
<line x1="257.22" y1="247.00" x2="261.62" y2="247.00" stroke="#c9262c" stroke-width="1.0" stroke-linecap="butt"/>
<line x1="257.22" y1="254.00" x2="261.62" y2="254.00" stroke="#c9262c" stroke-width="1.0" stroke-linecap="butt"/>
<line x1="262.53" y1="245.50" x2="262.53" y2="252.00" stroke="#c9262c" stroke-width="1.0" stroke-linecap="butt"/>
<line x1="260.33" y1="245.50" x2="264.73" y2="245.50" stroke="#c9262c" stroke-width="1.0" stroke-linecap="butt"/>
<line x1="260.33" y1="252.00" x2="264.73" y2="252.00" stroke="#c9262c" stroke-width="1.0" stroke-linecap="butt"/>
<line x1="268.76" y1="243.20" x2="268.76" y2="254.30" stroke="#c9262c" stroke-width="1.0" stroke-linecap="butt"/>
<line x1="266.56" y1="243.20" x2="270.96" y2="243.20" stroke="#c9262c" stroke-width="1.0" stroke-linecap="butt"/>
<line x1="266.56" y1="254.30" x2="270.96" y2="254.30" stroke="#c9262c" stroke-width="1.0" stroke-linecap="butt"/>
<line x1="293.68" y1="264.00" x2="293.68" y2="271.70" stroke="#c9262c" stroke-width="1.0" stroke-linecap="butt"/>
<line x1="291.48" y1="264.00" x2="295.88" y2="264.00" stroke="#c9262c" stroke-width="1.0" stroke-linecap="butt"/>
<line x1="291.48" y1="271.70" x2="295.88" y2="271.70" stroke="#c9262c" stroke-width="1.0" stroke-linecap="butt"/>
<line x1="299.91" y1="240.40" x2="299.91" y2="247.40" stroke="#c9262c" stroke-width="1.0" stroke-linecap="butt"/>
<line x1="297.71" y1="240.40" x2="302.11" y2="240.40" stroke="#c9262c" stroke-width="1.0" stroke-linecap="butt"/>
<line x1="297.71" y1="247.40" x2="302.11" y2="247.40" stroke="#c9262c" stroke-width="1.0" stroke-linecap="butt"/>
<line x1="306.14" y1="240.40" x2="306.14" y2="247.40" stroke="#c9262c" stroke-width="1.0" stroke-linecap="butt"/>
<line x1="303.94" y1="240.40" x2="308.34" y2="240.40" stroke="#c9262c" stroke-width="1.0" stroke-linecap="butt"/>
<line x1="303.94" y1="247.40" x2="308.34" y2="247.40" stroke="#c9262c" stroke-width="1.0" stroke-linecap="butt"/>
<line x1="405.82" y1="280.50" x2="405.82" y2="286.50" stroke="#c9262c" stroke-width="1.0" stroke-linecap="butt"/>
<line x1="403.62" y1="280.50" x2="408.02" y2="280.50" stroke="#c9262c" stroke-width="1.0" stroke-linecap="butt"/>
<line x1="403.62" y1="286.50" x2="408.02" y2="286.50" stroke="#c9262c" stroke-width="1.0" stroke-linecap="butt"/>
<line x1="257.86" y1="284.00" x2="257.86" y2="296.00" stroke="#2b4ea3" stroke-width="1.0" stroke-linecap="butt"/>
<line x1="255.66" y1="284.00" x2="260.06" y2="284.00" stroke="#2b4ea3" stroke-width="1.0" stroke-linecap="butt"/>
<line x1="255.66" y1="296.00" x2="260.06" y2="296.00" stroke="#2b4ea3" stroke-width="1.0" stroke-linecap="butt"/>
<line x1="259.42" y1="252.90" x2="259.42" y2="271.00" stroke="#2b4ea3" stroke-width="1.0" stroke-linecap="butt"/>
<line x1="257.22" y1="252.90" x2="261.62" y2="252.90" stroke="#2b4ea3" stroke-width="1.0" stroke-linecap="butt"/>
<line x1="257.22" y1="271.00" x2="261.62" y2="271.00" stroke="#2b4ea3" stroke-width="1.0" stroke-linecap="butt"/>
<line x1="262.53" y1="255.00" x2="262.53" y2="262.60" stroke="#2b4ea3" stroke-width="1.0" stroke-linecap="butt"/>
<line x1="260.33" y1="255.00" x2="264.73" y2="255.00" stroke="#2b4ea3" stroke-width="1.0" stroke-linecap="butt"/>
<line x1="260.33" y1="262.60" x2="264.73" y2="262.60" stroke="#2b4ea3" stroke-width="1.0" stroke-linecap="butt"/>
<line x1="268.76" y1="261.70" x2="268.76" y2="269.60" stroke="#2b4ea3" stroke-width="1.0" stroke-linecap="butt"/>
<line x1="266.56" y1="261.70" x2="270.96" y2="261.70" stroke="#2b4ea3" stroke-width="1.0" stroke-linecap="butt"/>
<line x1="266.56" y1="269.60" x2="270.96" y2="269.60" stroke="#2b4ea3" stroke-width="1.0" stroke-linecap="butt"/>
<line x1="293.68" y1="275.80" x2="293.68" y2="292.20" stroke="#2b4ea3" stroke-width="1.0" stroke-linecap="butt"/>
<line x1="291.48" y1="275.80" x2="295.88" y2="275.80" stroke="#2b4ea3" stroke-width="1.0" stroke-linecap="butt"/>
<line x1="291.48" y1="292.20" x2="295.88" y2="292.20" stroke="#2b4ea3" stroke-width="1.0" stroke-linecap="butt"/>
<line x1="299.91" y1="254.70" x2="299.91" y2="267.20" stroke="#2b4ea3" stroke-width="1.0" stroke-linecap="butt"/>
<line x1="297.71" y1="254.70" x2="302.11" y2="254.70" stroke="#2b4ea3" stroke-width="1.0" stroke-linecap="butt"/>
<line x1="297.71" y1="267.20" x2="302.11" y2="267.20" stroke="#2b4ea3" stroke-width="1.0" stroke-linecap="butt"/>
<line x1="306.14" y1="262.00" x2="306.14" y2="278.30" stroke="#2b4ea3" stroke-width="1.0" stroke-linecap="butt"/>
<line x1="303.94" y1="262.00" x2="308.34" y2="262.00" stroke="#2b4ea3" stroke-width="1.0" stroke-linecap="butt"/>
<line x1="303.94" y1="278.30" x2="308.34" y2="278.30" stroke="#2b4ea3" stroke-width="1.0" stroke-linecap="butt"/>
<polyline points="256.30,267.50 259.42,248.00 262.53,245.30 268.76,243.90 293.68,255.70 299.91,241.80 306.14,240.00 405.82,274.40" fill="none" stroke="#3a9a3c" stroke-width="1.6" stroke-linejoin="round"/>
<polyline points="256.30,283.50 259.42,250.80 262.53,248.75 268.76,247.40 293.68,266.80 299.91,243.60 306.14,243.20 405.82,283.60" fill="none" stroke="#c9262c" stroke-width="1.6" stroke-linejoin="round"/>
<polyline points="256.30,298.30 257.86,290.00 259.42,257.80 262.53,258.20 268.76,264.40 293.68,281.40 299.91,258.90 306.14,266.80 405.82,293.00" fill="none" stroke="#2b4ea3" stroke-width="1.6" stroke-linejoin="round"/>
<polygon points="254.06,269.29 258.54,269.29 256.30,265.26" fill="#3a9a3c"/>
<polygon points="257.18,249.79 261.66,249.79 259.42,245.76" fill="#3a9a3c"/>
<polygon points="260.29,247.09 264.77,247.09 262.53,243.06" fill="#3a9a3c"/>
<polygon points="266.52,245.69 271.00,245.69 268.76,241.66" fill="#3a9a3c"/>
<polygon points="291.44,257.49 295.92,257.49 293.68,253.46" fill="#3a9a3c"/>
<polygon points="297.67,243.59 302.15,243.59 299.91,239.56" fill="#3a9a3c"/>
<polygon points="303.90,241.79 308.38,241.79 306.14,237.76" fill="#3a9a3c"/>
<polygon points="403.58,276.19 408.06,276.19 405.82,272.16" fill="#3a9a3c"/>
<rect x="254.00" y="281.20" width="4.60" height="4.60" fill="#c9262c"/>
<rect x="257.12" y="248.50" width="4.60" height="4.60" fill="#c9262c"/>
<rect x="260.23" y="246.45" width="4.60" height="4.60" fill="#c9262c"/>
<rect x="266.46" y="245.10" width="4.60" height="4.60" fill="#c9262c"/>
<rect x="291.38" y="264.50" width="4.60" height="4.60" fill="#c9262c"/>
<rect x="297.61" y="241.30" width="4.60" height="4.60" fill="#c9262c"/>
<rect x="303.84" y="240.90" width="4.60" height="4.60" fill="#c9262c"/>
<rect x="403.52" y="281.30" width="4.60" height="4.60" fill="#c9262c"/>
<circle cx="256.30" cy="298.30" r="2.53" fill="#2b4ea3"/>
<circle cx="257.86" cy="290.00" r="2.53" fill="#2b4ea3"/>
<circle cx="259.42" cy="257.80" r="2.53" fill="#2b4ea3"/>
<circle cx="262.53" cy="258.20" r="2.53" fill="#2b4ea3"/>
<circle cx="268.76" cy="264.40" r="2.53" fill="#2b4ea3"/>
<circle cx="293.68" cy="281.40" r="2.53" fill="#2b4ea3"/>
<circle cx="299.91" cy="258.90" r="2.53" fill="#2b4ea3"/>
<circle cx="306.14" cy="266.80" r="2.53" fill="#2b4ea3"/>
<circle cx="405.82" cy="293.00" r="2.53" fill="#2b4ea3"/>
<line x1="285.10" y1="186.40" x2="295.70" y2="186.40" stroke="#2b4ea3" stroke-width="1.8" stroke-linecap="butt"/>
<circle cx="290.40" cy="186.40" r="2.30" fill="#2b4ea3"/>
<text x="300.80" y="189.70" font-size="9.0" font-weight="normal" fill="#1a1a1a">Simnotrelvir D14 - 40 mpk</text>
<line x1="285.10" y1="197.30" x2="295.70" y2="197.30" stroke="#c9262c" stroke-width="1.8" stroke-linecap="butt"/>
<rect x="288.10" y="195.00" width="4.60" height="4.60" fill="#c9262c"/>
<text x="300.95" y="200.30" font-size="9.0" font-weight="normal" fill="#1a1a1a">Simnotrelvir D14 - 160 mpk</text>
<line x1="285.10" y1="209.40" x2="295.70" y2="209.40" stroke="#3a9a3c" stroke-width="1.8" stroke-linecap="butt"/>
<polygon points="287.60,211.64 293.20,211.64 290.40,206.60" fill="#3a9a3c"/>
<text x="300.95" y="212.30" font-size="9.0" font-weight="normal" fill="#1a1a1a">Simnotrelvir D14 - 600 mpk</text>
<line x1="285.10" y1="220.00" x2="295.70" y2="220.00" stroke="#222" stroke-width="1.3" stroke-linecap="butt" stroke-dasharray="2.6,2.4"/>
<text x="300.90" y="224.70" font-size="9.0" font-weight="normal" fill="#1a1a1a">EC<tspan font-size="74%" dy="0.26em">90</tspan><tspan font-size="70%" dx="0.1em" dy="-0.83em">total</tspan><tspan dy="0.39em"> (906 ng/mL)</tspan></text>
<text x="443.50" y="16.50" font-size="13" font-weight="bold" text-anchor="start" fill="#000">f</text>
<line x1="484.10" y1="14.80" x2="484.10" y2="140.10" stroke="#000" stroke-width="1.8" stroke-linecap="butt"/>
<line x1="483.20" y1="139.20" x2="634.52" y2="139.20" stroke="#000" stroke-width="1.8" stroke-linecap="butt"/>
<line x1="480.10" y1="15.70" x2="484.10" y2="15.70" stroke="#000" stroke-width="1.5" stroke-linecap="butt"/>
<text x="479.10" y="18.70" font-size="8.7" font-weight="bold" text-anchor="end" fill="#111">10<tspan font-size="4.87" dx="0.6" dy="-2.87">7</tspan></text>
<line x1="480.10" y1="36.28" x2="484.10" y2="36.28" stroke="#000" stroke-width="1.5" stroke-linecap="butt"/>
<text x="479.10" y="39.28" font-size="8.7" font-weight="bold" text-anchor="end" fill="#111">10<tspan font-size="4.87" dx="0.6" dy="-2.87">6</tspan></text>
<line x1="480.10" y1="56.87" x2="484.10" y2="56.87" stroke="#000" stroke-width="1.5" stroke-linecap="butt"/>
<text x="479.10" y="59.87" font-size="8.7" font-weight="bold" text-anchor="end" fill="#111">10<tspan font-size="4.87" dx="0.6" dy="-2.87">5</tspan></text>
<line x1="480.10" y1="77.45" x2="484.10" y2="77.45" stroke="#000" stroke-width="1.5" stroke-linecap="butt"/>
<text x="479.10" y="80.45" font-size="8.7" font-weight="bold" text-anchor="end" fill="#111">10<tspan font-size="4.87" dx="0.6" dy="-2.87">4</tspan></text>
<line x1="480.10" y1="98.03" x2="484.10" y2="98.03" stroke="#000" stroke-width="1.5" stroke-linecap="butt"/>
<text x="479.10" y="101.03" font-size="8.7" font-weight="bold" text-anchor="end" fill="#111">10<tspan font-size="4.87" dx="0.6" dy="-2.87">3</tspan></text>
<line x1="480.10" y1="118.62" x2="484.10" y2="118.62" stroke="#000" stroke-width="1.5" stroke-linecap="butt"/>
<text x="479.10" y="121.62" font-size="8.7" font-weight="bold" text-anchor="end" fill="#111">10<tspan font-size="4.87" dx="0.6" dy="-2.87">2</tspan></text>
<line x1="480.10" y1="139.20" x2="484.10" y2="139.20" stroke="#000" stroke-width="1.5" stroke-linecap="butt"/>
<text x="479.10" y="142.20" font-size="8.7" font-weight="bold" text-anchor="end" fill="#111">10<tspan font-size="4.87" dx="0.6" dy="-2.87">1</tspan></text>
<line x1="484.10" y1="139.20" x2="484.10" y2="143.70" stroke="#000" stroke-width="1.5" stroke-linecap="butt"/>
<text x="484.10" y="152.80" font-size="8.7" font-weight="bold" text-anchor="middle" fill="#111">0</text>
<line x1="509.02" y1="139.20" x2="509.02" y2="143.70" stroke="#000" stroke-width="1.5" stroke-linecap="butt"/>
<text x="509.02" y="152.80" font-size="8.7" font-weight="bold" text-anchor="middle" fill="#111">4</text>
<line x1="533.94" y1="139.20" x2="533.94" y2="143.70" stroke="#000" stroke-width="1.5" stroke-linecap="butt"/>
<text x="533.94" y="152.80" font-size="8.7" font-weight="bold" text-anchor="middle" fill="#111">8</text>
<line x1="558.86" y1="139.20" x2="558.86" y2="143.70" stroke="#000" stroke-width="1.5" stroke-linecap="butt"/>
<text x="558.86" y="152.80" font-size="8.7" font-weight="bold" text-anchor="middle" fill="#111">12</text>
<line x1="583.78" y1="139.20" x2="583.78" y2="143.70" stroke="#000" stroke-width="1.5" stroke-linecap="butt"/>
<text x="583.78" y="152.80" font-size="8.7" font-weight="bold" text-anchor="middle" fill="#111">16</text>
<line x1="608.70" y1="139.20" x2="608.70" y2="143.70" stroke="#000" stroke-width="1.5" stroke-linecap="butt"/>
<text x="608.70" y="152.80" font-size="8.7" font-weight="bold" text-anchor="middle" fill="#111">20</text>
<line x1="633.62" y1="139.20" x2="633.62" y2="143.70" stroke="#000" stroke-width="1.5" stroke-linecap="butt"/>
<text x="633.62" y="152.80" font-size="8.7" font-weight="bold" text-anchor="middle" fill="#111">24</text>
<text x="0" y="0" font-size="8.27" font-weight="bold" fill="#111" transform="translate(452.95 119.05) rotate(-90)">plasma concentration</text>
<text x="0" y="0" font-size="8.36" font-weight="bold" fill="#111" transform="translate(462.30 91.53) rotate(-90)">(ng/mL)</text>
<text x="559.30" y="165.70" font-size="8.2" font-weight="bold" text-anchor="middle" fill="#000">Time (h)</text>
<line x1="486.00" y1="100.00" x2="631.00" y2="100.00" stroke="#222" stroke-width="1.4" stroke-linecap="butt" stroke-dasharray="2.6,2.4"/>
<line x1="486.00" y1="124.90" x2="631.00" y2="124.90" stroke="#f6a256" stroke-width="1.7" stroke-linecap="butt" stroke-dasharray="2.6,2.4"/>
<line x1="485.66" y1="61.00" x2="485.66" y2="66.00" stroke="#c9262c" stroke-width="1.0" stroke-linecap="butt"/>
<line x1="483.46" y1="61.00" x2="487.86" y2="61.00" stroke="#c9262c" stroke-width="1.0" stroke-linecap="butt"/>
<line x1="483.46" y1="66.00" x2="487.86" y2="66.00" stroke="#c9262c" stroke-width="1.0" stroke-linecap="butt"/>
<line x1="539.86" y1="81.00" x2="539.86" y2="87.00" stroke="#c9262c" stroke-width="1.0" stroke-linecap="butt"/>
<line x1="537.66" y1="81.00" x2="542.06" y2="81.00" stroke="#c9262c" stroke-width="1.0" stroke-linecap="butt"/>
<line x1="537.66" y1="87.00" x2="542.06" y2="87.00" stroke="#c9262c" stroke-width="1.0" stroke-linecap="butt"/>
<line x1="541.42" y1="55.80" x2="541.42" y2="64.00" stroke="#c9262c" stroke-width="1.0" stroke-linecap="butt"/>
<line x1="539.22" y1="55.80" x2="543.62" y2="55.80" stroke="#c9262c" stroke-width="1.0" stroke-linecap="butt"/>
<line x1="539.22" y1="64.00" x2="543.62" y2="64.00" stroke="#c9262c" stroke-width="1.0" stroke-linecap="butt"/>
<line x1="633.62" y1="77.60" x2="633.62" y2="85.60" stroke="#c9262c" stroke-width="1.0" stroke-linecap="butt"/>
<line x1="631.42" y1="77.60" x2="635.82" y2="77.60" stroke="#c9262c" stroke-width="1.0" stroke-linecap="butt"/>
<line x1="485.66" y1="71.00" x2="485.66" y2="78.00" stroke="#2b4ea3" stroke-width="1.0" stroke-linecap="butt"/>
<line x1="483.46" y1="71.00" x2="487.86" y2="71.00" stroke="#2b4ea3" stroke-width="1.0" stroke-linecap="butt"/>
<line x1="483.46" y1="78.00" x2="487.86" y2="78.00" stroke="#2b4ea3" stroke-width="1.0" stroke-linecap="butt"/>
<line x1="487.22" y1="70.00" x2="487.22" y2="75.00" stroke="#2b4ea3" stroke-width="1.0" stroke-linecap="butt"/>
<line x1="485.02" y1="70.00" x2="489.42" y2="70.00" stroke="#2b4ea3" stroke-width="1.0" stroke-linecap="butt"/>
<line x1="485.02" y1="75.00" x2="489.42" y2="75.00" stroke="#2b4ea3" stroke-width="1.0" stroke-linecap="butt"/>
<line x1="509.02" y1="91.10" x2="509.02" y2="97.90" stroke="#2b4ea3" stroke-width="1.0" stroke-linecap="butt"/>
<line x1="506.82" y1="91.10" x2="511.22" y2="91.10" stroke="#2b4ea3" stroke-width="1.0" stroke-linecap="butt"/>
<line x1="506.82" y1="97.90" x2="511.22" y2="97.90" stroke="#2b4ea3" stroke-width="1.0" stroke-linecap="butt"/>
<line x1="541.42" y1="70.40" x2="541.42" y2="78.00" stroke="#2b4ea3" stroke-width="1.0" stroke-linecap="butt"/>
<line x1="539.22" y1="70.40" x2="543.62" y2="70.40" stroke="#2b4ea3" stroke-width="1.0" stroke-linecap="butt"/>
<line x1="539.22" y1="78.00" x2="543.62" y2="78.00" stroke="#2b4ea3" stroke-width="1.0" stroke-linecap="butt"/>
<polyline points="485.66,63.40 487.22,63.40 490.33,67.50 496.56,70.00 509.02,76.60 539.86,83.60 541.42,60.30 543.29,63.80 546.40,68.10 633.62,85.60" fill="none" stroke="#c9262c" stroke-width="1.6" stroke-linejoin="round"/>
<polyline points="485.66,74.00 487.22,72.00 490.33,74.00 496.56,80.10 509.02,93.80 539.86,113.10 541.42,74.00 546.40,75.10 633.62,125.00" fill="none" stroke="#2b4ea3" stroke-width="1.6" stroke-linejoin="round"/>
<rect x="482.78" y="60.52" width="5.75" height="5.75" fill="#c9262c"/>
<rect x="484.34" y="60.52" width="5.75" height="5.75" fill="#c9262c"/>
<rect x="487.46" y="64.62" width="5.75" height="5.75" fill="#c9262c"/>
<rect x="493.69" y="67.12" width="5.75" height="5.75" fill="#c9262c"/>
<rect x="506.15" y="73.72" width="5.75" height="5.75" fill="#c9262c"/>
<rect x="536.98" y="80.72" width="5.75" height="5.75" fill="#c9262c"/>
<rect x="538.54" y="57.42" width="5.75" height="5.75" fill="#c9262c"/>
<rect x="540.41" y="60.92" width="5.75" height="5.75" fill="#c9262c"/>
<rect x="543.52" y="65.22" width="5.75" height="5.75" fill="#c9262c"/>
<rect x="630.75" y="82.72" width="5.75" height="5.75" fill="#c9262c"/>
<circle cx="485.66" cy="74.00" r="2.53" fill="#2b4ea3"/>
<circle cx="487.22" cy="72.00" r="2.53" fill="#2b4ea3"/>
<circle cx="490.33" cy="74.00" r="2.53" fill="#2b4ea3"/>
<circle cx="496.56" cy="80.10" r="2.53" fill="#2b4ea3"/>
<circle cx="509.02" cy="93.80" r="2.53" fill="#2b4ea3"/>
<circle cx="539.86" cy="113.10" r="2.53" fill="#2b4ea3"/>
<circle cx="541.42" cy="74.00" r="2.53" fill="#2b4ea3"/>
<circle cx="546.40" cy="75.10" r="2.53" fill="#2b4ea3"/>
<circle cx="633.62" cy="125.00" r="2.53" fill="#2b4ea3"/>
<text x="637.40" y="129.00" font-size="8.5" font-weight="normal" text-anchor="start" fill="#1a1a1a">BQL</text>
<line x1="505.10" y1="6.30" x2="515.90" y2="6.30" stroke="#2b4ea3" stroke-width="1.8" stroke-linecap="butt"/>
<circle cx="510.50" cy="6.30" r="2.30" fill="#2b4ea3"/>
<text x="520.70" y="9.20" font-size="9.11" font-weight="normal" fill="#1a1a1a">Simnotrelvir 50 mpk+RTV</text>
<line x1="505.10" y1="19.70" x2="515.90" y2="19.70" stroke="#c9262c" stroke-width="1.8" stroke-linecap="butt"/>
<rect x="508.20" y="17.40" width="4.60" height="4.60" fill="#c9262c"/>
<text x="520.90" y="22.60" font-size="9.0" font-weight="normal" fill="#1a1a1a">Simnotrelvir 200 mpk+RTV</text>
<line x1="505.10" y1="35.50" x2="515.90" y2="35.50" stroke="#222" stroke-width="1.3" stroke-linecap="butt" stroke-dasharray="2.6,2.4"/>
<text x="521.20" y="38.50" font-size="8.93" font-weight="normal" fill="#1a1a1a">EC<tspan font-size="74%" dy="0.26em">90</tspan><tspan font-size="70%" dx="0.1em" dy="-0.83em">total</tspan><tspan dy="0.39em"> (805 ng/mL)</tspan></text>
<line x1="505.10" y1="48.60" x2="515.90" y2="48.60" stroke="#f6a256" stroke-width="1.3" stroke-linecap="butt" stroke-dasharray="2.6,2.4"/>
<text x="521.70" y="51.70" font-size="8.91" font-weight="normal" fill="#1a1a1a">Quantification limit (11 ng/mL)</text>
<text x="443.50" y="199.50" font-size="13" font-weight="bold" text-anchor="start" fill="#000">g</text>
<line x1="483.20" y1="195.80" x2="483.20" y2="320.40" stroke="#000" stroke-width="1.8" stroke-linecap="butt"/>
<line x1="482.30" y1="319.50" x2="633.60" y2="319.50" stroke="#000" stroke-width="1.8" stroke-linecap="butt"/>
<line x1="479.20" y1="196.70" x2="483.20" y2="196.70" stroke="#000" stroke-width="1.5" stroke-linecap="butt"/>
<text x="478.20" y="199.70" font-size="8.7" font-weight="bold" text-anchor="end" fill="#111">10<tspan font-size="4.87" dx="0.6" dy="-2.87">6</tspan></text>
<line x1="479.20" y1="217.17" x2="483.20" y2="217.17" stroke="#000" stroke-width="1.5" stroke-linecap="butt"/>
<text x="478.20" y="220.17" font-size="8.7" font-weight="bold" text-anchor="end" fill="#111">10<tspan font-size="4.87" dx="0.6" dy="-2.87">5</tspan></text>
<line x1="479.20" y1="237.63" x2="483.20" y2="237.63" stroke="#000" stroke-width="1.5" stroke-linecap="butt"/>
<text x="478.20" y="240.63" font-size="8.7" font-weight="bold" text-anchor="end" fill="#111">10<tspan font-size="4.87" dx="0.6" dy="-2.87">4</tspan></text>
<line x1="479.20" y1="258.10" x2="483.20" y2="258.10" stroke="#000" stroke-width="1.5" stroke-linecap="butt"/>
<text x="478.20" y="261.10" font-size="8.7" font-weight="bold" text-anchor="end" fill="#111">10<tspan font-size="4.87" dx="0.6" dy="-2.87">3</tspan></text>
<line x1="479.20" y1="278.57" x2="483.20" y2="278.57" stroke="#000" stroke-width="1.5" stroke-linecap="butt"/>
<text x="478.20" y="281.57" font-size="8.7" font-weight="bold" text-anchor="end" fill="#111">10<tspan font-size="4.87" dx="0.6" dy="-2.87">2</tspan></text>
<line x1="479.20" y1="299.03" x2="483.20" y2="299.03" stroke="#000" stroke-width="1.5" stroke-linecap="butt"/>
<text x="478.20" y="302.03" font-size="8.7" font-weight="bold" text-anchor="end" fill="#111">10<tspan font-size="4.87" dx="0.6" dy="-2.87">1</tspan></text>
<line x1="479.20" y1="319.50" x2="483.20" y2="319.50" stroke="#000" stroke-width="1.5" stroke-linecap="butt"/>
<text x="478.20" y="322.50" font-size="8.7" font-weight="bold" text-anchor="end" fill="#111">10<tspan font-size="4.87" dx="0.6" dy="-2.87">0</tspan></text>
<line x1="510.20" y1="319.50" x2="510.20" y2="323.00" stroke="#000" stroke-width="1.5" stroke-linecap="butt"/>
<text x="510.20" y="332.20" font-size="7.7" font-weight="bold" text-anchor="middle" fill="#111">0.25</text>
<line x1="537.50" y1="319.50" x2="537.50" y2="323.00" stroke="#000" stroke-width="1.5" stroke-linecap="butt"/>
<text x="537.50" y="332.20" font-size="7.7" font-weight="bold" text-anchor="middle" fill="#111">2</text>
<line x1="564.80" y1="319.50" x2="564.80" y2="323.00" stroke="#000" stroke-width="1.5" stroke-linecap="butt"/>
<text x="564.80" y="332.20" font-size="7.7" font-weight="bold" text-anchor="middle" fill="#111">8</text>
<line x1="592.00" y1="319.50" x2="592.00" y2="323.00" stroke="#000" stroke-width="1.5" stroke-linecap="butt"/>
<text x="592.00" y="332.20" font-size="7.7" font-weight="bold" text-anchor="middle" fill="#111">24</text>
<text x="0" y="0" font-size="8.14" font-weight="bold" fill="#111" transform="translate(451.30 285.50) rotate(-90)">Concentration</text>
<text x="0" y="0" font-size="8.25" font-weight="bold" fill="#111" transform="translate(461.25 286.45) rotate(-90)">(ng/mL or ng/g)</text>
<text x="558.00" y="345.20" font-size="8.2" font-weight="bold" text-anchor="middle" fill="#000">Time (h)</text>
<line x1="485.00" y1="260.20" x2="631.00" y2="260.20" stroke="#222" stroke-width="1.4" stroke-linecap="butt" stroke-dasharray="2.6,2.4"/>
<line x1="485.00" y1="280.20" x2="631.00" y2="280.20" stroke="#bb4ae8" stroke-width="1.7" stroke-linecap="butt" stroke-dasharray="2.6,2.4"/>
<line x1="510.20" y1="221.50" x2="510.20" y2="228.00" stroke="#2b4ea3" stroke-width="1.0" stroke-linecap="butt"/>
<line x1="508.00" y1="221.50" x2="512.40" y2="221.50" stroke="#2b4ea3" stroke-width="1.0" stroke-linecap="butt"/>
<line x1="508.00" y1="228.00" x2="512.40" y2="228.00" stroke="#2b4ea3" stroke-width="1.0" stroke-linecap="butt"/>
<line x1="510.20" y1="223.50" x2="510.20" y2="230.50" stroke="#c9262c" stroke-width="1.0" stroke-linecap="butt"/>
<line x1="508.00" y1="223.50" x2="512.40" y2="223.50" stroke="#c9262c" stroke-width="1.0" stroke-linecap="butt"/>
<line x1="508.00" y1="230.50" x2="512.40" y2="230.50" stroke="#c9262c" stroke-width="1.0" stroke-linecap="butt"/>
<line x1="537.50" y1="228.00" x2="537.50" y2="233.50" stroke="#c9262c" stroke-width="1.0" stroke-linecap="butt"/>
<line x1="535.30" y1="228.00" x2="539.70" y2="228.00" stroke="#c9262c" stroke-width="1.0" stroke-linecap="butt"/>
<line x1="535.30" y1="233.50" x2="539.70" y2="233.50" stroke="#c9262c" stroke-width="1.0" stroke-linecap="butt"/>
<line x1="564.80" y1="240.00" x2="564.80" y2="255.00" stroke="#2b4ea3" stroke-width="1.0" stroke-linecap="butt"/>
<line x1="562.60" y1="240.00" x2="567.00" y2="240.00" stroke="#2b4ea3" stroke-width="1.0" stroke-linecap="butt"/>
<line x1="562.60" y1="255.00" x2="567.00" y2="255.00" stroke="#2b4ea3" stroke-width="1.0" stroke-linecap="butt"/>
<line x1="564.80" y1="239.00" x2="564.80" y2="251.00" stroke="#c9262c" stroke-width="1.0" stroke-linecap="butt"/>
<line x1="562.60" y1="239.00" x2="567.00" y2="239.00" stroke="#c9262c" stroke-width="1.0" stroke-linecap="butt"/>
<line x1="562.60" y1="251.00" x2="567.00" y2="251.00" stroke="#c9262c" stroke-width="1.0" stroke-linecap="butt"/>
<line x1="564.80" y1="263.60" x2="564.80" y2="274.00" stroke="#3a9a3c" stroke-width="1.0" stroke-linecap="butt"/>
<line x1="562.60" y1="263.60" x2="567.00" y2="263.60" stroke="#3a9a3c" stroke-width="1.0" stroke-linecap="butt"/>
<line x1="562.60" y1="274.00" x2="567.00" y2="274.00" stroke="#3a9a3c" stroke-width="1.0" stroke-linecap="butt"/>
<line x1="592.00" y1="274.00" x2="592.00" y2="299.40" stroke="#2b4ea3" stroke-width="1.0" stroke-linecap="butt"/>
<line x1="589.80" y1="274.00" x2="594.20" y2="274.00" stroke="#2b4ea3" stroke-width="1.0" stroke-linecap="butt"/>
<line x1="589.80" y1="299.40" x2="594.20" y2="299.40" stroke="#2b4ea3" stroke-width="1.0" stroke-linecap="butt"/>
<line x1="592.00" y1="271.40" x2="592.00" y2="278.50" stroke="#3a9a3c" stroke-width="1.0" stroke-linecap="butt"/>
<line x1="589.80" y1="271.40" x2="594.20" y2="271.40" stroke="#3a9a3c" stroke-width="1.0" stroke-linecap="butt"/>
<polyline points="510.20,260.00 537.50,258.40 564.80,268.00 592.00,278.50" fill="none" stroke="#3a9a3c" stroke-width="1.6" stroke-linejoin="round"/>
<polyline points="510.20,224.40 537.50,230.60 564.80,244.00 592.00,279.00" fill="none" stroke="#2b4ea3" stroke-width="1.6" stroke-linejoin="round"/>
<polyline points="510.20,227.00 537.50,231.60 564.80,243.00 592.00,309.00" fill="none" stroke="#c9262c" stroke-width="1.6" stroke-linejoin="round"/>
<polygon points="507.12,262.46 513.28,262.46 510.20,256.92" fill="#3a9a3c"/>
<polygon points="534.42,260.86 540.58,260.86 537.50,255.32" fill="#3a9a3c"/>
<polygon points="561.72,270.46 567.88,270.46 564.80,264.92" fill="#3a9a3c"/>
<polygon points="588.92,280.96 595.08,280.96 592.00,275.42" fill="#3a9a3c"/>
<rect x="507.67" y="221.87" width="5.06" height="5.06" fill="#2b4ea3"/>
<rect x="534.97" y="228.07" width="5.06" height="5.06" fill="#2b4ea3"/>
<rect x="562.27" y="241.47" width="5.06" height="5.06" fill="#2b4ea3"/>
<rect x="589.47" y="276.47" width="5.06" height="5.06" fill="#2b4ea3"/>
<circle cx="510.20" cy="227.00" r="2.76" fill="#c9262c"/>
<circle cx="537.50" cy="231.60" r="2.76" fill="#c9262c"/>
<circle cx="564.80" cy="243.00" r="2.76" fill="#c9262c"/>
<circle cx="592.00" cy="309.00" r="2.76" fill="#c9262c"/>
<line x1="584.70" y1="198.80" x2="595.60" y2="198.80" stroke="#c9262c" stroke-width="1.8" stroke-linecap="butt"/>
<circle cx="590.15" cy="198.80" r="2.30" fill="#c9262c"/>
<text x="600.85" y="201.90" font-size="9.0" font-weight="normal" fill="#1a1a1a">Plasma</text>
<line x1="584.70" y1="211.90" x2="595.60" y2="211.90" stroke="#2b4ea3" stroke-width="1.8" stroke-linecap="butt"/>
<rect x="587.85" y="209.60" width="4.60" height="4.60" fill="#2b4ea3"/>
<text x="600.90" y="215.10" font-size="8.53" font-weight="normal" fill="#1a1a1a">Lung</text>
<line x1="584.70" y1="225.50" x2="595.60" y2="225.50" stroke="#3a9a3c" stroke-width="1.8" stroke-linecap="butt"/>
<polygon points="587.35,227.74 592.95,227.74 590.15,222.70" fill="#3a9a3c"/>
<text x="600.95" y="228.70" font-size="9.18" font-weight="normal" fill="#1a1a1a">Brain</text>
<line x1="584.70" y1="239.60" x2="595.60" y2="239.60" stroke="#222" stroke-width="1.3" stroke-linecap="butt" stroke-dasharray="2.6,2.4"/>
<text x="600.95" y="244.00" font-size="8.9" font-weight="normal" fill="#1a1a1a">EC<tspan font-size="74%" dy="0.26em">90</tspan><tspan font-size="70%" dx="0.1em" dy="-0.83em">total</tspan><tspan dy="0.39em"> (805 ng/mL)</tspan></text>
<line x1="584.70" y1="252.30" x2="595.60" y2="252.30" stroke="#bb4ae8" stroke-width="1.3" stroke-linecap="butt" stroke-dasharray="2.6,2.4"/>
<text x="600.95" y="257.60" font-size="9.0" font-weight="normal" fill="#1a1a1a">EC<tspan font-size="74%" dy="0.26em">50</tspan><tspan font-size="70%" dx="0.1em" dy="-0.83em">total</tspan><tspan dy="0.39em"> (86 ng/mL)</tspan></text>
<text x="5.00" y="381.50" font-size="13" font-weight="bold" text-anchor="start" fill="#000">c</text>
<g transform="translate(281.00 543.10) rotate(-194.536)"><rect x="122.9" y="-10.1" width="81.6" height="20.2" fill="#b4c7e7"/></g>
<g transform="translate(281.00 543.10) rotate(-183.627)"><rect x="122.9" y="-10.1" width="81.6" height="20.2" fill="#b4c7e7"/></g>
<g transform="translate(281.00 543.10) rotate(-172.718)"><rect x="122.9" y="-10.1" width="81.6" height="20.2" fill="#b4c7e7"/></g>
<g transform="translate(281.00 543.10) rotate(-161.809)"><rect x="122.9" y="-10.1" width="81.6" height="20.2" fill="#b4c7e7"/></g>
<g transform="translate(281.00 543.10) rotate(-150.900)"><rect x="122.9" y="-10.1" width="81.6" height="20.2" fill="#b4c7e7"/></g>
<g transform="translate(281.00 543.10) rotate(-139.991)"><rect x="122.9" y="-10.1" width="81.6" height="20.2" fill="#b4c7e7"/></g>
<g transform="translate(281.00 543.10) rotate(-129.082)"><rect x="122.9" y="-10.1" width="81.6" height="20.2" fill="#b4c7e7"/></g>
<g transform="translate(281.00 543.10) rotate(-118.173)"><rect x="122.9" y="-10.1" width="81.6" height="20.2" fill="#b4c7e7"/></g>
<g transform="translate(281.00 543.10) rotate(-107.264)"><rect x="122.9" y="-10.1" width="58.599999999999994" height="20.2" fill="#d0cece"/></g>
<g transform="translate(281.00 543.10) rotate(-96.355)"><rect x="122.9" y="-10.1" width="58.599999999999994" height="20.2" fill="#d0cece"/></g>
<g transform="translate(281.00 543.10) rotate(-85.445)"><rect x="122.9" y="-10.1" width="58.599999999999994" height="20.2" fill="#d0cece"/></g>
<g transform="translate(281.00 543.10) rotate(-74.536)"><rect x="122.9" y="-10.1" width="58.599999999999994" height="20.2" fill="#d0cece"/></g>
<g transform="translate(281.00 543.10) rotate(-63.627)"><rect x="122.9" y="-10.1" width="58.599999999999994" height="20.2" fill="#d0cece"/></g>
<g transform="translate(281.00 543.10) rotate(-52.718)"><rect x="122.9" y="-10.1" width="58.099999999999994" height="20.2" fill="#b4aed6"/></g>
<g transform="translate(281.00 543.10) rotate(-41.809)"><rect x="122.9" y="-10.1" width="58.099999999999994" height="20.2" fill="#b4aed6"/></g>
<g transform="translate(281.00 543.10) rotate(-30.900)"><rect x="122.9" y="-10.1" width="58.099999999999994" height="20.2" fill="#b4aed6"/></g>
<g transform="translate(281.00 543.10) rotate(-19.991)"><rect x="122.9" y="-10.1" width="58.099999999999994" height="20.2" fill="#b4aed6"/></g>
<g transform="translate(281.00 543.10) rotate(-9.082)"><rect x="122.9" y="-10.1" width="58.099999999999994" height="20.2" fill="#b4aed6"/></g>
<g transform="translate(281.00 543.10) rotate(1.827)"><rect x="122.9" y="-10.1" width="58.099999999999994" height="20.2" fill="#b4aed6"/></g>
<g transform="translate(281.00 543.10) rotate(12.736)"><rect x="122.9" y="-10.1" width="58.099999999999994" height="20.2" fill="#b4aed6"/></g>
<g transform="translate(281.00 543.10) rotate(23.645)"><rect x="122.9" y="-10.1" width="51.599999999999994" height="20.2" fill="#f8cbad"/></g>
<g transform="translate(281.00 543.10) rotate(34.555)"><rect x="122.9" y="-10.1" width="51.599999999999994" height="20.2" fill="#f8cbad"/></g>
<g transform="translate(281.00 543.10) rotate(45.464)"><rect x="122.9" y="-10.1" width="51.599999999999994" height="20.2" fill="#f8cbad"/></g>
<g transform="translate(281.00 543.10) rotate(56.373)"><rect x="122.9" y="-10.1" width="51.599999999999994" height="20.2" fill="#f8cbad"/></g>
<g transform="translate(281.00 543.10) rotate(67.282)"><rect x="122.9" y="-10.1" width="51.599999999999994" height="20.2" fill="#f8cbad"/></g>
<g transform="translate(281.00 543.10) rotate(78.191)"><rect x="122.9" y="-10.1" width="51.599999999999994" height="20.2" fill="#f8cbad"/></g>
<g transform="translate(281.00 543.10) rotate(89.100)"><rect x="122.9" y="-10.1" width="51.599999999999994" height="20.2" fill="#f8cbad"/></g>
<g transform="translate(281.00 543.10) rotate(100.009)"><rect x="122.9" y="-10.1" width="44.099999999999994" height="20.2" fill="#ffe699"/></g>
<g transform="translate(281.00 543.10) rotate(110.918)"><rect x="122.9" y="-10.1" width="44.099999999999994" height="20.2" fill="#ffe699"/></g>
<g transform="translate(281.00 543.10) rotate(121.827)"><rect x="122.9" y="-10.1" width="44.099999999999994" height="20.2" fill="#ffe699"/></g>
<g transform="translate(281.00 543.10) rotate(132.736)"><rect x="122.9" y="-10.1" width="44.099999999999994" height="20.2" fill="#ffe699"/></g>
<g transform="translate(281.00 543.10) rotate(143.645)"><rect x="122.9" y="-10.1" width="44.099999999999994" height="20.2" fill="#ffe699"/></g>
<g transform="translate(281.00 543.10) rotate(154.555)"><rect x="122.9" y="-10.1" width="44.099999999999994" height="20.2" fill="#ffe699"/></g>
<path d="M166.54,584.74 A121.8,121.8 0 0 1 160.73,562.33 L209.61,554.51 A72.3,72.3 0 0 0 213.06,567.82 Z" fill="#ffffff" stroke="#111" stroke-width="0.8"/>
<path d="M160.73,562.33 A121.8,121.8 0 0 1 159.26,539.22 L208.74,540.79 A72.3,72.3 0 0 0 209.61,554.51 Z" fill="#d1eaa4" stroke="#111" stroke-width="0.8"/>
<path d="M159.26,539.22 A121.8,121.8 0 0 1 162.20,516.25 L210.48,527.16 A72.3,72.3 0 0 0 208.74,540.79 Z" fill="#ffffff" stroke="#111" stroke-width="0.8"/>
<path d="M162.20,516.25 A121.8,121.8 0 0 1 169.43,494.25 L214.77,514.10 A72.3,72.3 0 0 0 210.48,527.16 Z" fill="#ffffff" stroke="#111" stroke-width="0.8"/>
<path d="M169.43,494.25 A121.8,121.8 0 0 1 180.69,474.02 L221.45,502.09 A72.3,72.3 0 0 0 214.77,514.10 Z" fill="#ffffff" stroke="#111" stroke-width="0.8"/>
<path d="M180.69,474.02 A121.8,121.8 0 0 1 195.57,456.28 L230.29,491.56 A72.3,72.3 0 0 0 221.45,502.09 Z" fill="#e0f1c2" stroke="#111" stroke-width="0.8"/>
<path d="M195.57,456.28 A121.8,121.8 0 0 1 213.55,441.68 L240.96,482.90 A72.3,72.3 0 0 0 230.29,491.56 Z" fill="#ffffff" stroke="#111" stroke-width="0.8"/>
<path d="M213.55,441.68 A121.8,121.8 0 0 1 233.96,430.75 L253.08,476.41 A72.3,72.3 0 0 0 240.96,482.90 Z" fill="#ffffff" stroke="#111" stroke-width="0.8"/>
<path d="M233.96,430.75 A121.8,121.8 0 0 1 256.07,423.88 L266.20,472.33 A72.3,72.3 0 0 0 253.08,476.41 Z" fill="#ffffff" stroke="#111" stroke-width="0.8"/>
<path d="M256.07,423.88 A121.8,121.8 0 0 1 279.09,421.32 L279.86,470.81 A72.3,72.3 0 0 0 266.20,472.33 Z" fill="#ffffff" stroke="#111" stroke-width="0.8"/>
<path d="M279.09,421.32 A121.8,121.8 0 0 1 302.17,423.15 L293.57,471.90 A72.3,72.3 0 0 0 279.86,470.81 Z" fill="#ffffff" stroke="#111" stroke-width="0.8"/>
<path d="M302.17,423.15 A121.8,121.8 0 0 1 324.49,429.33 L306.81,475.57 A72.3,72.3 0 0 0 293.57,471.90 Z" fill="#ffffff" stroke="#111" stroke-width="0.8"/>
<path d="M324.49,429.33 A121.8,121.8 0 0 1 345.23,439.61 L319.13,481.67 A72.3,72.3 0 0 0 306.81,475.57 Z" fill="#ffffff" stroke="#111" stroke-width="0.8"/>
<path d="M345.23,439.61 A121.8,121.8 0 0 1 363.66,453.64 L330.06,490.00 A72.3,72.3 0 0 0 319.13,481.67 Z" fill="#ffffff" stroke="#111" stroke-width="0.8"/>
<path d="M363.66,453.64 A121.8,121.8 0 0 1 379.09,470.90 L339.23,500.24 A72.3,72.3 0 0 0 330.06,490.00 Z" fill="#ffffff" stroke="#111" stroke-width="0.8"/>
<path d="M379.09,470.90 A121.8,121.8 0 0 1 390.98,490.77 L346.29,512.04 A72.3,72.3 0 0 0 339.23,500.24 Z" fill="#ffffff" stroke="#111" stroke-width="0.8"/>
<path d="M390.98,490.77 A121.8,121.8 0 0 1 398.90,512.53 L350.99,524.95 A72.3,72.3 0 0 0 346.29,512.04 Z" fill="#ffffff" stroke="#111" stroke-width="0.8"/>
<path d="M398.90,512.53 A121.8,121.8 0 0 1 402.56,535.39 L353.16,538.53 A72.3,72.3 0 0 0 350.99,524.95 Z" fill="#ffffff" stroke="#111" stroke-width="0.8"/>
<path d="M402.56,535.39 A121.8,121.8 0 0 1 401.82,558.54 L352.72,552.26 A72.3,72.3 0 0 0 353.16,538.53 Z" fill="#ffffff" stroke="#111" stroke-width="0.8"/>
<path d="M401.82,558.54 A121.8,121.8 0 0 1 396.71,581.12 L349.69,565.67 A72.3,72.3 0 0 0 352.72,552.26 Z" fill="#e6f4ce" stroke="#111" stroke-width="0.8"/>
<path d="M396.71,581.12 A121.8,121.8 0 0 1 387.43,602.34 L344.17,578.26 A72.3,72.3 0 0 0 349.69,565.67 Z" fill="#1e9873" stroke="#111" stroke-width="0.8"/>
<path d="M387.43,602.34 A121.8,121.8 0 0 1 374.29,621.41 L336.38,589.58 A72.3,72.3 0 0 0 344.17,578.26 Z" fill="#38a370" stroke="#111" stroke-width="0.8"/>
<path d="M374.29,621.41 A121.8,121.8 0 0 1 357.79,637.65 L326.58,599.22 A72.3,72.3 0 0 0 336.38,589.58 Z" fill="#53ae6e" stroke="#111" stroke-width="0.8"/>
<path d="M357.79,637.65 A121.8,121.8 0 0 1 338.51,650.47 L315.14,606.83 A72.3,72.3 0 0 0 326.58,599.22 Z" fill="#1e9873" stroke="#111" stroke-width="0.8"/>
<path d="M338.51,650.47 A121.8,121.8 0 0 1 317.15,659.41 L302.46,612.14 A72.3,72.3 0 0 0 315.14,606.83 Z" fill="#1e9873" stroke="#111" stroke-width="0.8"/>
<path d="M317.15,659.41 A121.8,121.8 0 0 1 294.48,664.15 L289.00,614.96 A72.3,72.3 0 0 0 302.46,612.14 Z" fill="#6bb86c" stroke="#111" stroke-width="0.8"/>
<path d="M294.48,664.15 A121.8,121.8 0 0 1 271.33,664.52 L275.26,615.17 A72.3,72.3 0 0 0 289.00,614.96 Z" fill="#aed96a" stroke="#111" stroke-width="0.8"/>
<path d="M271.33,664.52 A121.8,121.8 0 0 1 248.52,660.49 L261.72,612.78 A72.3,72.3 0 0 0 275.26,615.17 Z" fill="#269b72" stroke="#111" stroke-width="0.8"/>
<path d="M248.52,660.49 A121.8,121.8 0 0 1 226.90,652.22 L248.88,607.88 A72.3,72.3 0 0 0 261.72,612.78 Z" fill="#1e9873" stroke="#111" stroke-width="0.8"/>
<path d="M226.90,652.22 A121.8,121.8 0 0 1 207.22,640.01 L237.21,600.63 A72.3,72.3 0 0 0 248.88,607.88 Z" fill="#1e9873" stroke="#111" stroke-width="0.8"/>
<path d="M207.22,640.01 A121.8,121.8 0 0 1 190.21,624.30 L227.11,591.30 A72.3,72.3 0 0 0 237.21,600.63 Z" fill="#239a72" stroke="#111" stroke-width="0.8"/>
<path d="M190.21,624.30 A121.8,121.8 0 0 1 176.49,605.65 L218.96,580.23 A72.3,72.3 0 0 0 227.11,591.30 Z" fill="#219973" stroke="#111" stroke-width="0.8"/>
<path d="M176.49,605.65 A121.8,121.8 0 0 1 166.54,584.74 L213.06,567.82 A72.3,72.3 0 0 0 218.96,580.23 Z" fill="#239a72" stroke="#111" stroke-width="0.8"/>
<circle cx="281.0" cy="543.1" r="121.8" fill="none" stroke="#111" stroke-width="0.9"/>
<circle cx="281.0" cy="543.1" r="72.3" fill="#fff" stroke="#111" stroke-width="0.9"/>
<text x="0" y="0" font-size="8.4" font-weight="bold" text-anchor="end" fill="#111" transform="translate(152.74 576.36) rotate(-14.536)" dy="3.0">Cathepsin A</text>
<text x="0" y="0" font-size="8.2" font-weight="bold" text-anchor="middle" fill="#2f5597" transform="translate(186.81 567.52) rotate(-14.536)" dy="2.9">&gt;100000</text>
<text x="0" y="0" font-size="8.4" font-weight="bold" text-anchor="end" fill="#111" transform="translate(148.77 551.48) rotate(-3.627)" dy="3.0">Cathepsin B</text>
<text x="0" y="0" font-size="8.2" font-weight="bold" text-anchor="middle" fill="#2f5597" transform="translate(181.80 549.39) rotate(-3.627)" dy="2.9">7194</text>
<text x="0" y="0" font-size="8.4" font-weight="bold" text-anchor="end" fill="#111" transform="translate(149.57 526.31) rotate(7.282)" dy="3.0">Cathepsin D</text>
<text x="0" y="0" font-size="8.2" font-weight="bold" text-anchor="middle" fill="#2f5597" transform="translate(184.48 530.77) rotate(7.282)" dy="2.9">&gt;100000</text>
<text x="0" y="0" font-size="8.4" font-weight="bold" text-anchor="end" fill="#111" transform="translate(155.12 501.74) rotate(18.191)" dy="3.0">Cathepsin E</text>
<text x="0" y="0" font-size="8.2" font-weight="bold" text-anchor="middle" fill="#2f5597" transform="translate(188.56 512.72) rotate(18.191)" dy="2.9">&gt;100000</text>
<text x="0" y="0" font-size="8.4" font-weight="bold" text-anchor="end" fill="#111" transform="translate(165.23 478.66) rotate(29.100)" dy="3.0">Cathepsin L</text>
<text x="0" y="0" font-size="8.2" font-weight="bold" text-anchor="middle" fill="#2f5597" transform="translate(195.98 495.78) rotate(29.100)" dy="2.9">&gt;100000</text>
<text x="0" y="0" font-size="8.4" font-weight="bold" text-anchor="end" fill="#111" transform="translate(179.51 457.91) rotate(40.009)" dy="3.0">Chymotrypsin</text>
<text x="0" y="0" font-size="8.2" font-weight="bold" text-anchor="middle" fill="#2f5597" transform="translate(206.47 480.54) rotate(40.009)" dy="2.9">&gt;20000</text>
<text x="0" y="0" font-size="8.4" font-weight="bold" text-anchor="end" fill="#111" transform="translate(197.47 440.25) rotate(50.918)" dy="3.0">Human kinases</text>
<text x="0" y="0" font-size="8.2" font-weight="bold" text-anchor="middle" fill="#2f5597" transform="translate(219.66 467.57) rotate(50.918)" dy="2.9">Negative</text>
<text x="0" y="0" font-size="8.4" font-weight="bold" text-anchor="end" fill="#111" transform="translate(218.44 426.30) rotate(61.827)" dy="3.0">Safety panel</text>
<text x="0" y="0" font-size="8.2" font-weight="bold" text-anchor="middle" fill="#2f5597" transform="translate(235.06 457.33) rotate(61.827)" dy="2.9">&gt;100000</text>
<text x="0" y="0" font-size="8.4" font-weight="bold" text-anchor="end" fill="#111" transform="translate(241.68 416.57) rotate(72.736)" dy="3.0">PBMC</text>
<text x="0" y="0" font-size="8.2" font-weight="bold" text-anchor="middle" fill="#767171" transform="translate(252.12 450.18) rotate(72.736)" dy="2.9">&gt;150000</text>
<text x="0" y="0" font-size="8.4" font-weight="bold" text-anchor="end" fill="#111" transform="translate(266.33 411.41) rotate(83.645)" dy="3.0">PHHs</text>
<text x="0" y="0" font-size="8.2" font-weight="bold" text-anchor="middle" fill="#767171" transform="translate(270.23 446.40) rotate(83.645)" dy="2.9">&gt;150000</text>
<text x="0" y="0" font-size="8.4" font-weight="bold" text-anchor="end" fill="#111" transform="translate(291.52 411.02) rotate(94.555)" dy="3.0">Ames test</text>
<text x="0" y="0" font-size="8.2" font-weight="bold" text-anchor="middle" fill="#767171" transform="translate(288.73 446.11) rotate(94.555)" dy="2.9">Negative</text>
<text x="0" y="0" font-size="8.4" font-weight="bold" text-anchor="end" fill="#111" transform="translate(316.33 415.40) rotate(105.464)" dy="3.0">CA</text>
<text x="0" y="0" font-size="8.2" font-weight="bold" text-anchor="middle" fill="#767171" transform="translate(306.94 449.32) rotate(105.464)" dy="2.9">Negative</text>
<text x="0" y="0" font-size="8.4" font-weight="bold" text-anchor="end" fill="#111" transform="translate(339.86 424.39) rotate(116.373)" dy="3.0">hERG</text>
<text x="0" y="0" font-size="8.2" font-weight="bold" text-anchor="middle" fill="#767171" transform="translate(324.22 455.93) rotate(116.373)" dy="2.9">&gt;300000</text>
<text x="0" y="0" font-size="8.4" font-weight="bold" text-anchor="start" fill="#111" transform="translate(361.26 437.67) rotate(-52.718)" dy="3.0">CYP1A2</text>
<text x="0" y="0" font-size="8.2" font-weight="bold" text-anchor="middle" fill="#7030a0" transform="translate(339.94 465.68) rotate(-52.718)" dy="2.9">&gt;100000</text>
<text x="0" y="0" font-size="8.4" font-weight="bold" text-anchor="start" fill="#111" transform="translate(379.76 454.77) rotate(-41.809)" dy="3.0">CYP2B6</text>
<text x="0" y="0" font-size="8.2" font-weight="bold" text-anchor="middle" fill="#7030a0" transform="translate(353.52 478.23) rotate(-41.809)" dy="2.9">&gt;100000</text>
<text x="0" y="0" font-size="8.4" font-weight="bold" text-anchor="start" fill="#111" transform="translate(394.69 475.06) rotate(-30.900)" dy="3.0">CYP2C8</text>
<text x="0" y="0" font-size="8.2" font-weight="bold" text-anchor="middle" fill="#7030a0" transform="translate(364.49 493.13) rotate(-30.900)" dy="2.9">&gt;100000</text>
<text x="0" y="0" font-size="8.4" font-weight="bold" text-anchor="start" fill="#111" transform="translate(405.52 497.80) rotate(-19.991)" dy="3.0">CYP2C9</text>
<text x="0" y="0" font-size="8.2" font-weight="bold" text-anchor="middle" fill="#7030a0" transform="translate(372.44 509.84) rotate(-19.991)" dy="2.9">&gt;100000</text>
<text x="0" y="0" font-size="8.4" font-weight="bold" text-anchor="start" fill="#111" transform="translate(411.84 522.19) rotate(-9.082)" dy="3.0">CYP2C19</text>
<text x="0" y="0" font-size="8.2" font-weight="bold" text-anchor="middle" fill="#7030a0" transform="translate(377.08 527.74) rotate(-9.082)" dy="2.9">&gt;100000</text>
<text x="0" y="0" font-size="8.4" font-weight="bold" text-anchor="start" fill="#111" transform="translate(413.43 547.32) rotate(1.827)" dy="3.0">CYP2D6</text>
<text x="0" y="0" font-size="8.2" font-weight="bold" text-anchor="middle" fill="#7030a0" transform="translate(378.25 546.20) rotate(1.827)" dy="2.9">&gt;100000</text>
<text x="0" y="0" font-size="8.4" font-weight="bold" text-anchor="start" fill="#111" transform="translate(410.24 572.31) rotate(12.736)" dy="3.0">CYP3A4/5</text>
<text x="0" y="0" font-size="8.2" font-weight="bold" text-anchor="middle" fill="#7030a0" transform="translate(372.88 563.87) rotate(12.736)" dy="2.9">30000</text>
<text x="0" y="0" font-size="8.4" font-weight="bold" text-anchor="start" fill="#111" transform="translate(402.38 596.24) rotate(23.645)" dy="3.0">SARS-2</text>
<text x="0" y="0" font-size="8.2" font-weight="bold" text-anchor="middle" fill="#ff3333" transform="translate(366.65 580.60) rotate(23.645)" dy="2.9">9</text>
<text x="0" y="0" font-size="8.4" font-weight="bold" text-anchor="start" fill="#111" transform="translate(390.13 618.25) rotate(34.555)" dy="3.0">SARS</text>
<text x="0" y="0" font-size="8.2" font-weight="bold" text-anchor="middle" fill="#ff3333" transform="translate(357.76 595.96) rotate(34.555)" dy="2.9">24</text>
<text x="0" y="0" font-size="8.4" font-weight="bold" text-anchor="start" fill="#111" transform="translate(373.93 637.55) rotate(45.464)" dy="3.0">MERS</text>
<text x="0" y="0" font-size="8.2" font-weight="bold" text-anchor="middle" fill="#ff3333" transform="translate(346.44 609.60) rotate(45.464)" dy="2.9">60</text>
<text x="0" y="0" font-size="8.4" font-weight="bold" text-anchor="start" fill="#111" transform="translate(354.38 653.43) rotate(56.373)" dy="3.0">HKU1</text>
<text x="0" y="0" font-size="8.2" font-weight="bold" text-anchor="middle" fill="#ff3333" transform="translate(333.72 622.37) rotate(56.373)" dy="2.9">10</text>
<text x="0" y="0" font-size="8.4" font-weight="bold" text-anchor="start" fill="#111" transform="translate(332.17 665.32) rotate(67.282)" dy="3.0">OC43</text>
<text x="0" y="0" font-size="8.2" font-weight="bold" text-anchor="middle" fill="#ff3333" transform="translate(318.11 631.74) rotate(67.282)" dy="2.9">5</text>
<text x="0" y="0" font-size="8.4" font-weight="bold" text-anchor="start" fill="#111" transform="translate(308.12 672.80) rotate(78.191)" dy="3.0">H229E</text>
<text x="0" y="0" font-size="8.2" font-weight="bold" text-anchor="middle" fill="#ff3333" transform="translate(300.69 637.26) rotate(78.191)" dy="2.9">129</text>
<text x="0" y="0" font-size="8.4" font-weight="bold" text-anchor="start" fill="#111" transform="translate(283.08 675.58) rotate(89.100)" dy="3.0">NL63</text>
<text x="0" y="0" font-size="8.2" font-weight="bold" text-anchor="middle" fill="#ff3333" transform="translate(282.52 639.69) rotate(89.100)" dy="2.9">849</text>
<text x="0" y="0" font-size="8.4" font-weight="bold" text-anchor="end" fill="#111" transform="translate(257.97 673.58) rotate(280.009)" dy="3.0">G15S</text>
<text x="0" y="0" font-size="8.2" font-weight="bold" text-anchor="middle" fill="#c55a11" transform="translate(264.18 638.43) rotate(280.009)" dy="2.9">13</text>
<text x="0" y="0" font-size="8.4" font-weight="bold" text-anchor="end" fill="#111" transform="translate(233.69 666.87) rotate(290.918)" dy="3.0">T21I</text>
<text x="0" y="0" font-size="8.2" font-weight="bold" text-anchor="middle" fill="#c55a11" transform="translate(246.58 633.15) rotate(290.918)" dy="2.9">8</text>
<text x="0" y="0" font-size="8.4" font-weight="bold" text-anchor="end" fill="#111" transform="translate(211.12 655.68) rotate(301.827)" dy="3.0">L89F</text>
<text x="0" y="0" font-size="8.2" font-weight="bold" text-anchor="middle" fill="#c55a11" transform="translate(230.95 623.73) rotate(301.827)" dy="2.9">9</text>
<text x="0" y="0" font-size="8.4" font-weight="bold" text-anchor="end" fill="#111" transform="translate(191.08 640.42) rotate(312.736)" dy="3.0">K90R</text>
<text x="0" y="0" font-size="8.2" font-weight="bold" text-anchor="middle" fill="#c55a11" transform="translate(216.26 613.17) rotate(312.736)" dy="2.9">12</text>
<text x="0" y="0" font-size="8.4" font-weight="bold" text-anchor="end" fill="#111" transform="translate(174.29 621.64) rotate(323.645)" dy="3.0">P132H</text>
<text x="0" y="0" font-size="8.2" font-weight="bold" text-anchor="middle" fill="#c55a11" transform="translate(203.36 600.24) rotate(323.645)" dy="2.9">11</text>
<text x="0" y="0" font-size="8.4" font-weight="bold" text-anchor="end" fill="#111" transform="translate(161.35 600.03) rotate(334.555)" dy="3.0">L205V</text>
<text x="0" y="0" font-size="8.2" font-weight="bold" text-anchor="middle" fill="#c55a11" transform="translate(193.32 584.82) rotate(334.555)" dy="2.9">12</text>
<text x="281.00" y="530.80" font-size="10.8" font-weight="bold" text-anchor="middle" fill="#000">Selectivity and</text>
<text x="281.0" y="543.9" font-size="10.8" font-weight="bold" text-anchor="middle" fill="#000"><tspan font-style="italic">in vitro</tspan> safety</text>
<text x="281.00" y="556.80" font-size="10.8" font-weight="bold" text-anchor="middle" fill="#000">of simnotrelvir</text>
<rect x="16.00" y="406.00" width="9.4" height="8.4" fill="#b4c7e7" stroke="#222" stroke-width="1"/>
<text x="72.50" y="403.30" font-size="9.6" font-weight="normal" text-anchor="middle" fill="#1a1a1a">Human proteases,</text>
<text x="72.50" y="414.90" font-size="9.6" font-weight="normal" text-anchor="middle" fill="#1a1a1a">kinases</text>
<text x="72.50" y="426.50" font-size="9.6" font-weight="normal" text-anchor="middle" fill="#1a1a1a">and ADR targets</text>
<rect x="424.00" y="379.00" width="9.4" height="8.4" fill="#d0cece" stroke="#222" stroke-width="1"/>
<text x="472.3" y="382.4" font-size="9.6" text-anchor="middle" fill="#222"><tspan font-style="italic">In vitro</tspan> safety</text>
<text x="472.30" y="393.80" font-size="9.6" font-weight="normal" text-anchor="middle" fill="#1a1a1a">assays</text>
<rect x="424.00" y="414.60" width="9.4" height="8.4" fill="#b4aed6" stroke="#222" stroke-width="1"/>
<text x="443.60" y="415.80" font-size="9.6" font-weight="normal" text-anchor="start" fill="#1a1a1a">Human CYP</text>
<text x="443.60" y="427.40" font-size="9.6" font-weight="normal" text-anchor="start" fill="#1a1a1a">enzymes</text>
<rect x="72.40" y="681.20" width="9.4" height="8.4" fill="#ffe699" stroke="#222" stroke-width="1"/>
<text x="131" y="684.4" font-size="9.6" text-anchor="middle" fill="#222">3CL<tspan font-size="6.2" dy="-3.6">pro</tspan><tspan dy="3.6"> Mutations</tspan></text>
<text x="131.00" y="695.80" font-size="9.6" font-weight="normal" text-anchor="middle" fill="#1a1a1a">of VOIs</text>
<rect x="395.40" y="687.40" width="9.4" height="8.4" fill="#f8cbad" stroke="#222" stroke-width="1"/>
<text x="415" y="695.8" font-size="9.6" text-anchor="start" fill="#222">3CL<tspan font-size="6.2" dy="-3.6">pro</tspan><tspan dy="3.6"> of CoVs</tspan></text>
<defs><linearGradient id="cb" x1="0" y1="0" x2="0" y2="1"><stop offset="0.0" stop-color="#f8fcf2"/><stop offset="0.25" stop-color="#d6ecae"/><stop offset="0.5" stop-color="#b4dc6a"/><stop offset="0.75" stop-color="#62b46c"/><stop offset="1.0" stop-color="#1e9873"/></linearGradient></defs>
<rect x="571.0" y="458.2" width="17.600000000000023" height="209.8" fill="url(#cb)" stroke="#111" stroke-width="1.1"/>
<line x1="570.50" y1="458.20" x2="591.10" y2="458.20" stroke="#111" stroke-width="1.6" stroke-linecap="butt"/>
<line x1="570.50" y1="668.00" x2="591.10" y2="668.00" stroke="#111" stroke-width="1.6" stroke-linecap="butt"/>
<line x1="588.60" y1="458.20" x2="591.40" y2="458.20" stroke="#111" stroke-width="1.2" stroke-linecap="butt"/>
<line x1="588.60" y1="484.43" x2="591.40" y2="484.43" stroke="#111" stroke-width="1.2" stroke-linecap="butt"/>
<line x1="588.60" y1="510.65" x2="591.40" y2="510.65" stroke="#111" stroke-width="1.2" stroke-linecap="butt"/>
<line x1="588.60" y1="536.88" x2="591.40" y2="536.88" stroke="#111" stroke-width="1.2" stroke-linecap="butt"/>
<line x1="588.60" y1="563.10" x2="591.40" y2="563.10" stroke="#111" stroke-width="1.2" stroke-linecap="butt"/>
<line x1="588.60" y1="589.33" x2="591.40" y2="589.33" stroke="#111" stroke-width="1.2" stroke-linecap="butt"/>
<line x1="588.60" y1="615.55" x2="591.40" y2="615.55" stroke="#111" stroke-width="1.2" stroke-linecap="butt"/>
<line x1="588.60" y1="641.77" x2="591.40" y2="641.77" stroke="#111" stroke-width="1.2" stroke-linecap="butt"/>
<line x1="588.60" y1="668.00" x2="591.40" y2="668.00" stroke="#111" stroke-width="1.2" stroke-linecap="butt"/>
<text x="574" y="429.4" font-size="9.4" fill="#222">IC<tspan font-size="6.2" dy="2.2">50</tspan><tspan dy="-2.2"> or CC</tspan><tspan font-size="6.2" dy="2.2">50</tspan><tspan dy="-2.2"> (nM)</tspan></text>
<text x="598.00" y="455.40" font-size="9.4" font-weight="normal" text-anchor="start" fill="#1a1a1a">&gt;= 100000</text>
<text x="598.00" y="467.00" font-size="9.4" font-weight="normal" text-anchor="start" fill="#1a1a1a">or negative</text>
<text x="598.00" y="515.00" font-size="9.4" font-weight="normal" text-anchor="start" fill="#1a1a1a">10000</text>
<text x="598.00" y="568.00" font-size="9.4" font-weight="normal" text-anchor="start" fill="#1a1a1a">1000</text>
<text x="598.00" y="620.00" font-size="9.4" font-weight="normal" text-anchor="start" fill="#1a1a1a">100</text>
<text x="598.00" y="665.00" font-size="9.4" font-weight="normal" text-anchor="start" fill="#1a1a1a">&lt;= 10</text>
<text x="598.00" y="677.00" font-size="9.4" font-weight="normal" text-anchor="start" fill="#1a1a1a">or positive</text>
</svg>
</body></html>
